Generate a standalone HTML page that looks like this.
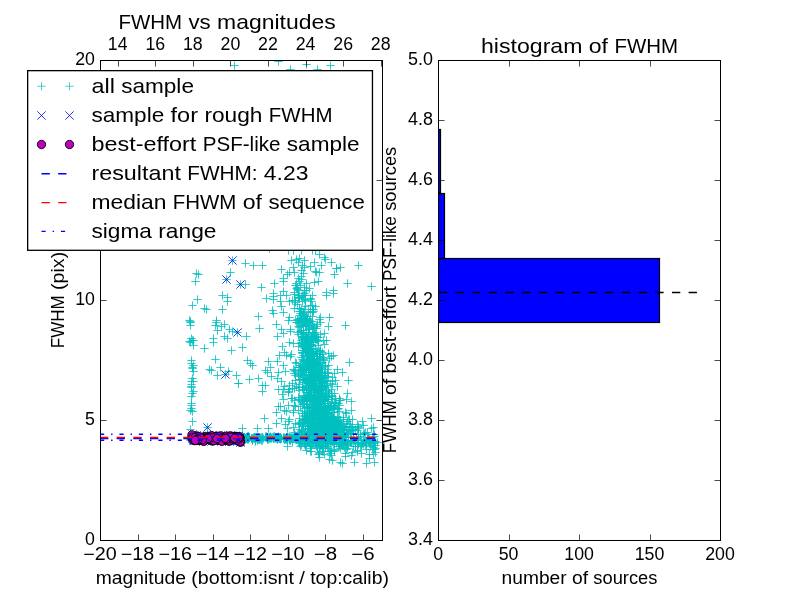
<!DOCTYPE html>
<html lang="en">
<head>
<meta charset="utf-8">
<title>FWHM vs magnitudes</title>
<style>
html,body{margin:0;padding:0;background:#fff;}
body{width:800px;height:600px;overflow:hidden;font-family:"Liberation Sans",sans-serif;}
svg{display:block;will-change:transform;}
text{font-family:"Liberation Sans",sans-serif;fill:#000;}
</style>
</head>
<body>
<svg width="800" height="600" viewBox="0 0 800 600">
<rect x="0" y="0" width="800" height="600" fill="#ffffff"/>
<defs><clipPath id="cl"><rect x="100.5" y="60.5" width="282" height="480"/></clipPath><clipPath id="cr"><rect x="438.5" y="60.5" width="282" height="480"/></clipPath></defs>
<g clip-path="url(#cl)">
<path d="M230.33 65.5h8.34M234.5 61.33v8.34M274.33 61.5h8.34M278.5 57.33v8.34M286.33 69.5h8.34M290.5 65.33v8.34M302.33 64.5h8.34M306.5 60.33v8.34M313.33 69.5h8.34M317.5 65.33v8.34M326.33 65.5h8.34M330.5 61.33v8.34M265.33 248.5h8.34M269.5 244.33v8.34M284.33 250.5h8.34M288.5 246.33v8.34M289.33 250.5h8.34M293.5 246.33v8.34M297.33 250.5h8.34M301.5 246.33v8.34M308.33 250.5h8.34M312.5 246.33v8.34M311.33 250.5h8.34M315.5 246.33v8.34M315.33 254.5h8.34M319.5 250.33v8.34M320.33 257.5h8.34M324.5 253.33v8.34M321.33 259.5h8.34M325.5 255.33v8.34M327.33 262.5h8.34M331.5 258.33v8.34M332.33 268.5h8.34M336.5 264.33v8.34M330.33 274.5h8.34M334.5 270.33v8.34M329.33 290.5h8.34M333.5 286.33v8.34M317.33 265.5h8.34M321.5 261.33v8.34M310.33 262.5h8.34M314.5 258.33v8.34M311.33 271.5h8.34M315.5 267.33v8.34M312.33 272.5h8.34M316.5 268.33v8.34M315.33 272.5h8.34M319.5 268.33v8.34M310.33 282.5h8.34M314.5 278.33v8.34M314.33 281.5h8.34M318.5 277.33v8.34M287.33 260.5h8.34M291.5 256.33v8.34M292.33 259.5h8.34M296.5 255.33v8.34M295.33 258.5h8.34M299.5 254.33v8.34M300.33 260.5h8.34M304.5 256.33v8.34M294.33 262.5h8.34M298.5 258.33v8.34M277.33 269.5h8.34M281.5 265.33v8.34M289.33 267.5h8.34M293.5 263.33v8.34M298.33 265.5h8.34M302.5 261.33v8.34M297.33 270.5h8.34M301.5 266.33v8.34M306.33 266.5h8.34M310.5 262.33v8.34M300.33 267.5h8.34M304.5 263.33v8.34M285.33 272.5h8.34M289.5 268.33v8.34M283.33 274.5h8.34M287.5 270.33v8.34M279.33 278.5h8.34M283.5 274.33v8.34M279.33 281.5h8.34M283.5 277.33v8.34M290.33 272.5h8.34M294.5 268.33v8.34M299.33 273.5h8.34M303.5 269.33v8.34M297.33 276.5h8.34M301.5 272.33v8.34M294.33 278.5h8.34M298.5 274.33v8.34M297.33 279.5h8.34M301.5 275.33v8.34M295.33 281.5h8.34M299.5 277.33v8.34M292.33 283.5h8.34M296.5 279.33v8.34M291.33 285.5h8.34M295.5 281.33v8.34M293.33 287.5h8.34M297.5 283.33v8.34M292.33 288.5h8.34M296.5 284.33v8.34M294.33 290.5h8.34M298.5 286.33v8.34M300.33 287.5h8.34M304.5 283.33v8.34M300.33 290.5h8.34M304.5 286.33v8.34M305.33 288.5h8.34M309.5 284.33v8.34M302.33 290.5h8.34M306.5 286.33v8.34M279.33 291.5h8.34M283.5 287.33v8.34M322.33 292.5h8.34M326.5 288.33v8.34M302.33 283.5h8.34M306.5 279.33v8.34M296.33 285.5h8.34M300.5 281.33v8.34M228.33 260.5h8.34M232.5 256.33v8.34M241.33 263.5h8.34M245.5 259.33v8.34M249.33 265.5h8.34M253.5 261.33v8.34M258.33 265.5h8.34M262.5 261.33v8.34M192.33 273.5h8.34M196.5 269.33v8.34M194.33 274.5h8.34M198.5 270.33v8.34M191.33 281.5h8.34M195.5 277.33v8.34M226.33 272.5h8.34M230.5 268.33v8.34M222.33 279.5h8.34M226.5 275.33v8.34M236.33 284.5h8.34M240.5 280.33v8.34M241.33 284.5h8.34M245.5 280.33v8.34M257.33 287.5h8.34M261.5 283.33v8.34M270.33 283.5h8.34M274.5 279.33v8.34M218.33 295.5h8.34M222.5 291.33v8.34M223.33 297.5h8.34M227.5 293.33v8.34M223.33 301.5h8.34M227.5 297.33v8.34M193.33 299.5h8.34M197.5 295.33v8.34M188.33 305.5h8.34M192.5 301.33v8.34M200.33 308.5h8.34M204.5 304.33v8.34M202.33 309.5h8.34M206.5 305.33v8.34M218.33 309.5h8.34M222.5 305.33v8.34M262.33 298.5h8.34M266.5 294.33v8.34M269.33 293.5h8.34M273.5 289.33v8.34M269.33 296.5h8.34M273.5 292.33v8.34M269.33 299.5h8.34M273.5 295.33v8.34M268.33 310.5h8.34M272.5 306.33v8.34M269.33 313.5h8.34M273.5 309.33v8.34M254.33 316.5h8.34M258.5 312.33v8.34M185.33 320.5h8.34M189.5 316.33v8.34M212.33 320.5h8.34M216.5 316.33v8.34M276.33 295.5h8.34M280.5 291.33v8.34M276.33 301.5h8.34M280.5 297.33v8.34M277.33 306.5h8.34M281.5 302.33v8.34M279.33 312.5h8.34M283.5 308.33v8.34M186.33 322.5h8.34M190.5 318.33v8.34M186.33 325.5h8.34M190.5 321.33v8.34M187.33 338.5h8.34M191.5 334.33v8.34M188.33 340.5h8.34M192.5 336.33v8.34M186.33 342.5h8.34M190.5 338.33v8.34M189.33 345.5h8.34M193.5 341.33v8.34M189.33 340.5h8.34M193.5 336.33v8.34M185.33 341.5h8.34M189.5 337.33v8.34M187.33 360.5h8.34M191.5 356.33v8.34M187.33 363.5h8.34M191.5 359.33v8.34M189.33 365.5h8.34M193.5 361.33v8.34M188.33 368.5h8.34M192.5 364.33v8.34M189.33 371.5h8.34M193.5 367.33v8.34M188.33 378.5h8.34M192.5 374.33v8.34M187.33 381.5h8.34M191.5 377.33v8.34M189.33 381.5h8.34M193.5 377.33v8.34M187.33 384.5h8.34M191.5 380.33v8.34M187.33 387.5h8.34M191.5 383.33v8.34M189.33 391.5h8.34M193.5 387.33v8.34M187.33 386.5h8.34M191.5 382.33v8.34M212.33 322.5h8.34M216.5 318.33v8.34M211.33 325.5h8.34M215.5 321.33v8.34M220.33 324.5h8.34M224.5 320.33v8.34M217.33 326.5h8.34M221.5 322.33v8.34M213.33 330.5h8.34M217.5 326.33v8.34M225.33 329.5h8.34M229.5 325.33v8.34M228.33 331.5h8.34M232.5 327.33v8.34M233.33 332.5h8.34M237.5 328.33v8.34M242.33 336.5h8.34M246.5 332.33v8.34M255.33 328.5h8.34M259.5 324.33v8.34M220.33 336.5h8.34M224.5 332.33v8.34M223.33 338.5h8.34M227.5 334.33v8.34M209.33 338.5h8.34M213.5 334.33v8.34M209.33 342.5h8.34M213.5 338.33v8.34M200.33 348.5h8.34M204.5 344.33v8.34M227.33 350.5h8.34M231.5 346.33v8.34M238.33 347.5h8.34M242.5 343.33v8.34M273.33 336.5h8.34M277.5 332.33v8.34M211.33 359.5h8.34M215.5 355.33v8.34M216.33 367.5h8.34M220.5 363.33v8.34M205.33 369.5h8.34M209.5 365.33v8.34M207.33 370.5h8.34M211.5 366.33v8.34M213.33 375.5h8.34M217.5 371.33v8.34M221.33 374.5h8.34M225.5 370.33v8.34M224.33 371.5h8.34M228.5 367.33v8.34M232.33 375.5h8.34M236.5 371.33v8.34M234.33 383.5h8.34M238.5 379.33v8.34M245.33 379.5h8.34M249.5 375.33v8.34M243.33 360.5h8.34M247.5 356.33v8.34M246.33 363.5h8.34M250.5 359.33v8.34M248.33 365.5h8.34M252.5 361.33v8.34M254.33 378.5h8.34M258.5 374.33v8.34M264.33 361.5h8.34M268.5 357.33v8.34M273.33 361.5h8.34M277.5 357.33v8.34M266.33 367.5h8.34M270.5 363.33v8.34M261.33 370.5h8.34M265.5 366.33v8.34M263.33 372.5h8.34M267.5 368.33v8.34M267.33 376.5h8.34M271.5 372.33v8.34M274.33 372.5h8.34M278.5 368.33v8.34M273.33 378.5h8.34M277.5 374.33v8.34M258.33 385.5h8.34M262.5 381.33v8.34M261.33 385.5h8.34M265.5 381.33v8.34M258.33 391.5h8.34M262.5 387.33v8.34M274.33 389.5h8.34M278.5 385.33v8.34M272.33 324.5h8.34M276.5 320.33v8.34M277.33 329.5h8.34M281.5 325.33v8.34M279.33 333.5h8.34M283.5 329.33v8.34M278.33 346.5h8.34M282.5 342.33v8.34M280.33 352.5h8.34M284.5 348.33v8.34M275.33 355.5h8.34M279.5 351.33v8.34M279.33 365.5h8.34M283.5 361.33v8.34M281.33 371.5h8.34M285.5 367.33v8.34M277.33 381.5h8.34M281.5 377.33v8.34M280.33 386.5h8.34M284.5 382.33v8.34M186.33 321.5h8.34M190.5 317.33v8.34M188.33 367.5h8.34M192.5 363.33v8.34M188.33 393.5h8.34M192.5 389.33v8.34M187.33 403.5h8.34M191.5 399.33v8.34M188.33 411.5h8.34M192.5 407.33v8.34M187.33 396.5h8.34M191.5 392.33v8.34M187.33 405.5h8.34M191.5 401.33v8.34M187.33 408.5h8.34M191.5 404.33v8.34M186.33 410.5h8.34M190.5 406.33v8.34M188.33 421.5h8.34M192.5 417.33v8.34M186.33 429.5h8.34M190.5 425.33v8.34M260.33 418.5h8.34M264.5 414.33v8.34M238.33 428.5h8.34M242.5 424.33v8.34M253.33 428.5h8.34M257.5 424.33v8.34M264.33 428.5h8.34M268.5 424.33v8.34M272.33 412.5h8.34M276.5 408.33v8.34M272.33 423.5h8.34M276.5 419.33v8.34M274.33 406.5h8.34M278.5 402.33v8.34M234.33 383.5h8.34M238.5 379.33v8.34M276.33 406.5h8.34M280.5 402.33v8.34M278.33 394.5h8.34M282.5 390.33v8.34M279.33 389.5h8.34M283.5 385.33v8.34M279.33 399.5h8.34M283.5 395.33v8.34M280.33 410.5h8.34M284.5 406.33v8.34M277.33 418.5h8.34M281.5 414.33v8.34M281.33 424.5h8.34M285.5 420.33v8.34M354.33 265.5h8.34M358.5 261.33v8.34M367.33 286.5h8.34M371.5 282.33v8.34M343.33 283.5h8.34M347.5 279.33v8.34M336.33 267.5h8.34M340.5 263.33v8.34M332.33 268.5h8.34M336.5 264.33v8.34M329.33 293.5h8.34M333.5 289.33v8.34M322.33 295.5h8.34M326.5 291.33v8.34M325.33 317.5h8.34M329.5 313.33v8.34M316.33 317.5h8.34M320.5 313.33v8.34M311.33 306.5h8.34M315.5 302.33v8.34M341.33 325.5h8.34M345.5 321.33v8.34M344.33 380.5h8.34M348.5 376.33v8.34M324.33 326.5h8.34M328.5 322.33v8.34M322.33 340.5h8.34M326.5 336.33v8.34M327.33 356.5h8.34M331.5 352.33v8.34M333.33 369.5h8.34M337.5 365.33v8.34M338.33 463.5h8.34M342.5 459.33v8.34M370.33 462.5h8.34M374.5 458.33v8.34M315.33 457.5h8.34M319.5 453.33v8.34M328.33 460.5h8.34M332.5 456.33v8.34M367.33 418.5h8.34M371.5 414.33v8.34M369.33 427.5h8.34M373.5 423.33v8.34M203.33 427.5h8.34M207.5 423.33v8.34M310.33 354.5h8.34M314.5 350.33v8.34M301.33 347.5h8.34M305.5 343.33v8.34M316.33 378.5h8.34M320.5 374.33v8.34M316.33 377.5h8.34M320.5 373.33v8.34M313.33 376.5h8.34M317.5 372.33v8.34M318.33 443.5h8.34M322.5 439.33v8.34M308.33 368.5h8.34M312.5 364.33v8.34M301.33 342.5h8.34M305.5 338.33v8.34M320.33 426.5h8.34M324.5 422.33v8.34M321.33 416.5h8.34M325.5 412.33v8.34M322.33 426.5h8.34M326.5 422.33v8.34M300.33 374.5h8.34M304.5 370.33v8.34M304.33 340.5h8.34M308.5 336.33v8.34M311.33 409.5h8.34M315.5 405.33v8.34M318.33 399.5h8.34M322.5 395.33v8.34M323.33 441.5h8.34M327.5 437.33v8.34M293.33 289.5h8.34M297.5 285.33v8.34M320.33 439.5h8.34M324.5 435.33v8.34M303.33 351.5h8.34M307.5 347.33v8.34M302.33 398.5h8.34M306.5 394.33v8.34M305.33 320.5h8.34M309.5 316.33v8.34M310.33 415.5h8.34M314.5 411.33v8.34M302.33 388.5h8.34M306.5 384.33v8.34M324.33 397.5h8.34M328.5 393.33v8.34M307.33 359.5h8.34M311.5 355.33v8.34M297.33 330.5h8.34M301.5 326.33v8.34M313.33 436.5h8.34M317.5 432.33v8.34M304.33 351.5h8.34M308.5 347.33v8.34M317.33 412.5h8.34M321.5 408.33v8.34M321.33 418.5h8.34M325.5 414.33v8.34M313.33 356.5h8.34M317.5 352.33v8.34M324.33 414.5h8.34M328.5 410.33v8.34M307.33 339.5h8.34M311.5 335.33v8.34M319.33 411.5h8.34M323.5 407.33v8.34M313.33 412.5h8.34M317.5 408.33v8.34M313.33 392.5h8.34M317.5 388.33v8.34M303.33 363.5h8.34M307.5 359.33v8.34M340.33 439.5h8.34M344.5 435.33v8.34M310.33 337.5h8.34M314.5 333.33v8.34M326.33 431.5h8.34M330.5 427.33v8.34M330.33 436.5h8.34M334.5 432.33v8.34M333.33 423.5h8.34M337.5 419.33v8.34M321.33 410.5h8.34M325.5 406.33v8.34M301.33 306.5h8.34M305.5 302.33v8.34M310.33 433.5h8.34M314.5 429.33v8.34M320.33 397.5h8.34M324.5 393.33v8.34M303.33 442.5h8.34M307.5 438.33v8.34M309.33 415.5h8.34M313.5 411.33v8.34M323.33 430.5h8.34M327.5 426.33v8.34M310.33 328.5h8.34M314.5 324.33v8.34M314.33 414.5h8.34M318.5 410.33v8.34M315.33 413.5h8.34M319.5 409.33v8.34M303.33 396.5h8.34M307.5 392.33v8.34M302.33 417.5h8.34M306.5 413.33v8.34M326.33 442.5h8.34M330.5 438.33v8.34M311.33 407.5h8.34M315.5 403.33v8.34M303.33 350.5h8.34M307.5 346.33v8.34M305.33 383.5h8.34M309.5 379.33v8.34M314.33 414.5h8.34M318.5 410.33v8.34M315.33 408.5h8.34M319.5 404.33v8.34M305.33 443.5h8.34M309.5 439.33v8.34M316.33 419.5h8.34M320.5 415.33v8.34M324.33 428.5h8.34M328.5 424.33v8.34M319.33 412.5h8.34M323.5 408.33v8.34M318.33 442.5h8.34M322.5 438.33v8.34M313.33 390.5h8.34M317.5 386.33v8.34M316.33 395.5h8.34M320.5 391.33v8.34M325.33 435.5h8.34M329.5 431.33v8.34M321.33 437.5h8.34M325.5 433.33v8.34M311.33 441.5h8.34M315.5 437.33v8.34M295.33 311.5h8.34M299.5 307.33v8.34M321.33 395.5h8.34M325.5 391.33v8.34M309.33 366.5h8.34M313.5 362.33v8.34M295.33 343.5h8.34M299.5 339.33v8.34M315.33 377.5h8.34M319.5 373.33v8.34M319.33 431.5h8.34M323.5 427.33v8.34M294.33 397.5h8.34M298.5 393.33v8.34M299.33 370.5h8.34M303.5 366.33v8.34M318.33 352.5h8.34M322.5 348.33v8.34M324.33 390.5h8.34M328.5 386.33v8.34M308.33 415.5h8.34M312.5 411.33v8.34M303.33 414.5h8.34M307.5 410.33v8.34M313.33 439.5h8.34M317.5 435.33v8.34M304.33 329.5h8.34M308.5 325.33v8.34M307.33 406.5h8.34M311.5 402.33v8.34M320.33 416.5h8.34M324.5 412.33v8.34M315.33 413.5h8.34M319.5 409.33v8.34M330.33 430.5h8.34M334.5 426.33v8.34M307.33 385.5h8.34M311.5 381.33v8.34M316.33 416.5h8.34M320.5 412.33v8.34M344.33 419.5h8.34M348.5 415.33v8.34M321.33 432.5h8.34M325.5 428.33v8.34M318.33 419.5h8.34M322.5 415.33v8.34M310.33 385.5h8.34M314.5 381.33v8.34M309.33 389.5h8.34M313.5 385.33v8.34M305.33 359.5h8.34M309.5 355.33v8.34M303.33 349.5h8.34M307.5 345.33v8.34M313.33 353.5h8.34M317.5 349.33v8.34M322.33 397.5h8.34M326.5 393.33v8.34M315.33 440.5h8.34M319.5 436.33v8.34M313.33 419.5h8.34M317.5 415.33v8.34M300.33 320.5h8.34M304.5 316.33v8.34M298.33 352.5h8.34M302.5 348.33v8.34M304.33 355.5h8.34M308.5 351.33v8.34M303.33 350.5h8.34M307.5 346.33v8.34M323.33 432.5h8.34M327.5 428.33v8.34M300.33 309.5h8.34M304.5 305.33v8.34M325.33 437.5h8.34M329.5 433.33v8.34M309.33 379.5h8.34M313.5 375.33v8.34M325.33 412.5h8.34M329.5 408.33v8.34M314.33 441.5h8.34M318.5 437.33v8.34M302.33 398.5h8.34M306.5 394.33v8.34M300.33 404.5h8.34M304.5 400.33v8.34M328.33 439.5h8.34M332.5 435.33v8.34M314.33 396.5h8.34M318.5 392.33v8.34M288.33 388.5h8.34M292.5 384.33v8.34M328.33 436.5h8.34M332.5 432.33v8.34M311.33 381.5h8.34M315.5 377.33v8.34M318.33 423.5h8.34M322.5 419.33v8.34M291.33 362.5h8.34M295.5 358.33v8.34M315.33 386.5h8.34M319.5 382.33v8.34M323.33 443.5h8.34M327.5 439.33v8.34M305.33 392.5h8.34M309.5 388.33v8.34M312.33 359.5h8.34M316.5 355.33v8.34M308.33 444.5h8.34M312.5 440.33v8.34M335.33 425.5h8.34M339.5 421.33v8.34M302.33 392.5h8.34M306.5 388.33v8.34M309.33 327.5h8.34M313.5 323.33v8.34M302.33 359.5h8.34M306.5 355.33v8.34M295.33 429.5h8.34M299.5 425.33v8.34M331.33 438.5h8.34M335.5 434.33v8.34M311.33 439.5h8.34M315.5 435.33v8.34M314.33 345.5h8.34M318.5 341.33v8.34M310.33 435.5h8.34M314.5 431.33v8.34M302.33 332.5h8.34M306.5 328.33v8.34M326.33 424.5h8.34M330.5 420.33v8.34M319.33 427.5h8.34M323.5 423.33v8.34M313.33 427.5h8.34M317.5 423.33v8.34M303.33 378.5h8.34M307.5 374.33v8.34M297.33 430.5h8.34M301.5 426.33v8.34M308.33 423.5h8.34M312.5 419.33v8.34M302.33 392.5h8.34M306.5 388.33v8.34M315.33 424.5h8.34M319.5 420.33v8.34M302.33 337.5h8.34M306.5 333.33v8.34M299.33 333.5h8.34M303.5 329.33v8.34M317.33 380.5h8.34M321.5 376.33v8.34M311.33 398.5h8.34M315.5 394.33v8.34M317.33 425.5h8.34M321.5 421.33v8.34M296.33 373.5h8.34M300.5 369.33v8.34M312.33 433.5h8.34M316.5 429.33v8.34M319.33 430.5h8.34M323.5 426.33v8.34M311.33 402.5h8.34M315.5 398.33v8.34M317.33 404.5h8.34M321.5 400.33v8.34M310.33 397.5h8.34M314.5 393.33v8.34M322.33 422.5h8.34M326.5 418.33v8.34M316.33 409.5h8.34M320.5 405.33v8.34M290.33 300.5h8.34M294.5 296.33v8.34M318.33 362.5h8.34M322.5 358.33v8.34M306.33 321.5h8.34M310.5 317.33v8.34M304.33 359.5h8.34M308.5 355.33v8.34M312.33 415.5h8.34M316.5 411.33v8.34M291.33 423.5h8.34M295.5 419.33v8.34M318.33 390.5h8.34M322.5 386.33v8.34M320.33 413.5h8.34M324.5 409.33v8.34M308.33 373.5h8.34M312.5 369.33v8.34M318.33 382.5h8.34M322.5 378.33v8.34M315.33 408.5h8.34M319.5 404.33v8.34M335.33 436.5h8.34M339.5 432.33v8.34M302.33 370.5h8.34M306.5 366.33v8.34M296.33 365.5h8.34M300.5 361.33v8.34M309.33 336.5h8.34M313.5 332.33v8.34M302.33 436.5h8.34M306.5 432.33v8.34M321.33 435.5h8.34M325.5 431.33v8.34M309.33 405.5h8.34M313.5 401.33v8.34M312.33 383.5h8.34M316.5 379.33v8.34M314.33 399.5h8.34M318.5 395.33v8.34M313.33 363.5h8.34M317.5 359.33v8.34M301.33 421.5h8.34M305.5 417.33v8.34M302.33 369.5h8.34M306.5 365.33v8.34M305.33 394.5h8.34M309.5 390.33v8.34M320.33 423.5h8.34M324.5 419.33v8.34M305.33 433.5h8.34M309.5 429.33v8.34M295.33 442.5h8.34M299.5 438.33v8.34M299.33 330.5h8.34M303.5 326.33v8.34M341.33 437.5h8.34M345.5 433.33v8.34M315.33 376.5h8.34M319.5 372.33v8.34M311.33 407.5h8.34M315.5 403.33v8.34M318.33 444.5h8.34M322.5 440.33v8.34M308.33 374.5h8.34M312.5 370.33v8.34M332.33 440.5h8.34M336.5 436.33v8.34M308.33 316.5h8.34M312.5 312.33v8.34M306.33 420.5h8.34M310.5 416.33v8.34M316.33 381.5h8.34M320.5 377.33v8.34M309.33 365.5h8.34M313.5 361.33v8.34M307.33 383.5h8.34M311.5 379.33v8.34M303.33 392.5h8.34M307.5 388.33v8.34M339.33 419.5h8.34M343.5 415.33v8.34M321.33 413.5h8.34M325.5 409.33v8.34M320.33 439.5h8.34M324.5 435.33v8.34M290.33 432.5h8.34M294.5 428.33v8.34M303.33 367.5h8.34M307.5 363.33v8.34M333.33 408.5h8.34M337.5 404.33v8.34M319.33 401.5h8.34M323.5 397.33v8.34M312.33 442.5h8.34M316.5 438.33v8.34M327.33 406.5h8.34M331.5 402.33v8.34M298.33 366.5h8.34M302.5 362.33v8.34M316.33 438.5h8.34M320.5 434.33v8.34M307.33 344.5h8.34M311.5 340.33v8.34M308.33 439.5h8.34M312.5 435.33v8.34M311.33 413.5h8.34M315.5 409.33v8.34M327.33 424.5h8.34M331.5 420.33v8.34M318.33 390.5h8.34M322.5 386.33v8.34M330.33 423.5h8.34M334.5 419.33v8.34M327.33 405.5h8.34M331.5 401.33v8.34M316.33 435.5h8.34M320.5 431.33v8.34M328.33 441.5h8.34M332.5 437.33v8.34M324.33 441.5h8.34M328.5 437.33v8.34M325.33 435.5h8.34M329.5 431.33v8.34M334.33 443.5h8.34M338.5 439.33v8.34M289.33 410.5h8.34M293.5 406.33v8.34M327.33 432.5h8.34M331.5 428.33v8.34M326.33 439.5h8.34M330.5 435.33v8.34M298.33 295.5h8.34M302.5 291.33v8.34M307.33 425.5h8.34M311.5 421.33v8.34M313.33 428.5h8.34M317.5 424.33v8.34M304.33 311.5h8.34M308.5 307.33v8.34M322.33 439.5h8.34M326.5 435.33v8.34M296.33 311.5h8.34M300.5 307.33v8.34M295.33 322.5h8.34M299.5 318.33v8.34M331.33 380.5h8.34M335.5 376.33v8.34M302.33 367.5h8.34M306.5 363.33v8.34M301.33 321.5h8.34M305.5 317.33v8.34M301.33 397.5h8.34M305.5 393.33v8.34M329.33 427.5h8.34M333.5 423.33v8.34M297.33 365.5h8.34M301.5 361.33v8.34M310.33 426.5h8.34M314.5 422.33v8.34M306.33 400.5h8.34M310.5 396.33v8.34M311.33 371.5h8.34M315.5 367.33v8.34M317.33 435.5h8.34M321.5 431.33v8.34M324.33 365.5h8.34M328.5 361.33v8.34M305.33 363.5h8.34M309.5 359.33v8.34M325.33 358.5h8.34M329.5 354.33v8.34M323.33 410.5h8.34M327.5 406.33v8.34M295.33 308.5h8.34M299.5 304.33v8.34M301.33 375.5h8.34M305.5 371.33v8.34M311.33 370.5h8.34M315.5 366.33v8.34M324.33 425.5h8.34M328.5 421.33v8.34M323.33 427.5h8.34M327.5 423.33v8.34M335.33 443.5h8.34M339.5 439.33v8.34M329.33 417.5h8.34M333.5 413.33v8.34M310.33 424.5h8.34M314.5 420.33v8.34M316.33 446.5h8.34M320.5 442.33v8.34M333.33 421.5h8.34M337.5 417.33v8.34M304.33 326.5h8.34M308.5 322.33v8.34M312.33 339.5h8.34M316.5 335.33v8.34M315.33 401.5h8.34M319.5 397.33v8.34M295.33 379.5h8.34M299.5 375.33v8.34M323.33 431.5h8.34M327.5 427.33v8.34M312.33 412.5h8.34M316.5 408.33v8.34M338.33 426.5h8.34M342.5 422.33v8.34M309.33 353.5h8.34M313.5 349.33v8.34M326.33 421.5h8.34M330.5 417.33v8.34M310.33 422.5h8.34M314.5 418.33v8.34M298.33 343.5h8.34M302.5 339.33v8.34M305.33 375.5h8.34M309.5 371.33v8.34M327.33 441.5h8.34M331.5 437.33v8.34M298.33 413.5h8.34M302.5 409.33v8.34M320.33 429.5h8.34M324.5 425.33v8.34M328.33 438.5h8.34M332.5 434.33v8.34M302.33 404.5h8.34M306.5 400.33v8.34M317.33 397.5h8.34M321.5 393.33v8.34M310.33 358.5h8.34M314.5 354.33v8.34M331.33 398.5h8.34M335.5 394.33v8.34M321.33 409.5h8.34M325.5 405.33v8.34M305.33 360.5h8.34M309.5 356.33v8.34M306.33 399.5h8.34M310.5 395.33v8.34M300.33 432.5h8.34M304.5 428.33v8.34M326.33 405.5h8.34M330.5 401.33v8.34M316.33 422.5h8.34M320.5 418.33v8.34M320.33 373.5h8.34M324.5 369.33v8.34M333.33 427.5h8.34M337.5 423.33v8.34M315.33 445.5h8.34M319.5 441.33v8.34M310.33 397.5h8.34M314.5 393.33v8.34M299.33 312.5h8.34M303.5 308.33v8.34M310.33 422.5h8.34M314.5 418.33v8.34M319.33 399.5h8.34M323.5 395.33v8.34M316.33 378.5h8.34M320.5 374.33v8.34M317.33 401.5h8.34M321.5 397.33v8.34M307.33 420.5h8.34M311.5 416.33v8.34M325.33 429.5h8.34M329.5 425.33v8.34M320.33 432.5h8.34M324.5 428.33v8.34M308.33 422.5h8.34M312.5 418.33v8.34M318.33 385.5h8.34M322.5 381.33v8.34M301.33 443.5h8.34M305.5 439.33v8.34M318.33 397.5h8.34M322.5 393.33v8.34M302.33 439.5h8.34M306.5 435.33v8.34M314.33 436.5h8.34M318.5 432.33v8.34M316.33 334.5h8.34M320.5 330.33v8.34M308.33 422.5h8.34M312.5 418.33v8.34M315.33 359.5h8.34M319.5 355.33v8.34M314.33 341.5h8.34M318.5 337.33v8.34M328.33 412.5h8.34M332.5 408.33v8.34M298.33 423.5h8.34M302.5 419.33v8.34M327.33 434.5h8.34M331.5 430.33v8.34M300.33 434.5h8.34M304.5 430.33v8.34M315.33 422.5h8.34M319.5 418.33v8.34M310.33 388.5h8.34M314.5 384.33v8.34M299.33 360.5h8.34M303.5 356.33v8.34M324.33 441.5h8.34M328.5 437.33v8.34M323.33 417.5h8.34M327.5 413.33v8.34M298.33 399.5h8.34M302.5 395.33v8.34M327.33 436.5h8.34M331.5 432.33v8.34M335.33 420.5h8.34M339.5 416.33v8.34M310.33 406.5h8.34M314.5 402.33v8.34M318.33 371.5h8.34M322.5 367.33v8.34M308.33 368.5h8.34M312.5 364.33v8.34M315.33 393.5h8.34M319.5 389.33v8.34M321.33 422.5h8.34M325.5 418.33v8.34M318.33 393.5h8.34M322.5 389.33v8.34M318.33 411.5h8.34M322.5 407.33v8.34M304.33 407.5h8.34M308.5 403.33v8.34M302.33 389.5h8.34M306.5 385.33v8.34M305.33 362.5h8.34M309.5 358.33v8.34M328.33 432.5h8.34M332.5 428.33v8.34M330.33 431.5h8.34M334.5 427.33v8.34M313.33 439.5h8.34M317.5 435.33v8.34M305.33 368.5h8.34M309.5 364.33v8.34M289.33 369.5h8.34M293.5 365.33v8.34M304.33 419.5h8.34M308.5 415.33v8.34M303.33 416.5h8.34M307.5 412.33v8.34M299.33 379.5h8.34M303.5 375.33v8.34M306.33 377.5h8.34M310.5 373.33v8.34M297.33 332.5h8.34M301.5 328.33v8.34M314.33 370.5h8.34M318.5 366.33v8.34M305.33 322.5h8.34M309.5 318.33v8.34M304.33 369.5h8.34M308.5 365.33v8.34M294.33 410.5h8.34M298.5 406.33v8.34M298.33 322.5h8.34M302.5 318.33v8.34M306.33 438.5h8.34M310.5 434.33v8.34M317.33 428.5h8.34M321.5 424.33v8.34M298.33 359.5h8.34M302.5 355.33v8.34M307.33 348.5h8.34M311.5 344.33v8.34M336.33 431.5h8.34M340.5 427.33v8.34M304.33 332.5h8.34M308.5 328.33v8.34M321.33 373.5h8.34M325.5 369.33v8.34M316.33 380.5h8.34M320.5 376.33v8.34M322.33 408.5h8.34M326.5 404.33v8.34M306.33 397.5h8.34M310.5 393.33v8.34M303.33 339.5h8.34M307.5 335.33v8.34M313.33 414.5h8.34M317.5 410.33v8.34M319.33 403.5h8.34M323.5 399.33v8.34M318.33 413.5h8.34M322.5 409.33v8.34M304.33 378.5h8.34M308.5 374.33v8.34M294.33 295.5h8.34M298.5 291.33v8.34M305.33 407.5h8.34M309.5 403.33v8.34M317.33 426.5h8.34M321.5 422.33v8.34M299.33 346.5h8.34M303.5 342.33v8.34M300.33 299.5h8.34M304.5 295.33v8.34M299.33 336.5h8.34M303.5 332.33v8.34M310.33 358.5h8.34M314.5 354.33v8.34M325.33 429.5h8.34M329.5 425.33v8.34M319.33 398.5h8.34M323.5 394.33v8.34M313.33 414.5h8.34M317.5 410.33v8.34M329.33 405.5h8.34M333.5 401.33v8.34M313.33 406.5h8.34M317.5 402.33v8.34M312.33 446.5h8.34M316.5 442.33v8.34M306.33 439.5h8.34M310.5 435.33v8.34M310.33 396.5h8.34M314.5 392.33v8.34M308.33 362.5h8.34M312.5 358.33v8.34M309.33 399.5h8.34M313.5 395.33v8.34M315.33 426.5h8.34M319.5 422.33v8.34M322.33 437.5h8.34M326.5 433.33v8.34M309.33 342.5h8.34M313.5 338.33v8.34M311.33 429.5h8.34M315.5 425.33v8.34M318.33 381.5h8.34M322.5 377.33v8.34M317.33 372.5h8.34M321.5 368.33v8.34M297.33 369.5h8.34M301.5 365.33v8.34M310.33 383.5h8.34M314.5 379.33v8.34M324.33 391.5h8.34M328.5 387.33v8.34M309.33 425.5h8.34M313.5 421.33v8.34M330.33 431.5h8.34M334.5 427.33v8.34M302.33 316.5h8.34M306.5 312.33v8.34M313.33 431.5h8.34M317.5 427.33v8.34M311.33 408.5h8.34M315.5 404.33v8.34M332.33 421.5h8.34M336.5 417.33v8.34M309.33 410.5h8.34M313.5 406.33v8.34M295.33 367.5h8.34M299.5 363.33v8.34M292.33 322.5h8.34M296.5 318.33v8.34M298.33 319.5h8.34M302.5 315.33v8.34M317.33 428.5h8.34M321.5 424.33v8.34M301.33 426.5h8.34M305.5 422.33v8.34M314.33 377.5h8.34M318.5 373.33v8.34M303.33 401.5h8.34M307.5 397.33v8.34M334.33 403.5h8.34M338.5 399.33v8.34M338.33 435.5h8.34M342.5 431.33v8.34M317.33 429.5h8.34M321.5 425.33v8.34M308.33 400.5h8.34M312.5 396.33v8.34M313.33 412.5h8.34M317.5 408.33v8.34M326.33 421.5h8.34M330.5 417.33v8.34M301.33 413.5h8.34M305.5 409.33v8.34M353.33 430.5h8.34M357.5 426.33v8.34M301.33 295.5h8.34M305.5 291.33v8.34M330.33 412.5h8.34M334.5 408.33v8.34M292.33 386.5h8.34M296.5 382.33v8.34M323.33 409.5h8.34M327.5 405.33v8.34M305.33 328.5h8.34M309.5 324.33v8.34M320.33 430.5h8.34M324.5 426.33v8.34M310.33 400.5h8.34M314.5 396.33v8.34M303.33 428.5h8.34M307.5 424.33v8.34M312.33 354.5h8.34M316.5 350.33v8.34M315.33 364.5h8.34M319.5 360.33v8.34M326.33 441.5h8.34M330.5 437.33v8.34M310.33 368.5h8.34M314.5 364.33v8.34M304.33 441.5h8.34M308.5 437.33v8.34M294.33 374.5h8.34M298.5 370.33v8.34M308.33 325.5h8.34M312.5 321.33v8.34M308.33 352.5h8.34M312.5 348.33v8.34M294.33 326.5h8.34M298.5 322.33v8.34M321.33 411.5h8.34M325.5 407.33v8.34M326.33 418.5h8.34M330.5 414.33v8.34M317.33 410.5h8.34M321.5 406.33v8.34M304.33 365.5h8.34M308.5 361.33v8.34M319.33 378.5h8.34M323.5 374.33v8.34M302.33 440.5h8.34M306.5 436.33v8.34M316.33 390.5h8.34M320.5 386.33v8.34M313.33 415.5h8.34M317.5 411.33v8.34M322.33 438.5h8.34M326.5 434.33v8.34M314.33 364.5h8.34M318.5 360.33v8.34M313.33 431.5h8.34M317.5 427.33v8.34M320.33 400.5h8.34M324.5 396.33v8.34M317.33 368.5h8.34M321.5 364.33v8.34M303.33 349.5h8.34M307.5 345.33v8.34M307.33 430.5h8.34M311.5 426.33v8.34M304.33 334.5h8.34M308.5 330.33v8.34M300.33 368.5h8.34M304.5 364.33v8.34M316.33 432.5h8.34M320.5 428.33v8.34M308.33 374.5h8.34M312.5 370.33v8.34M309.33 423.5h8.34M313.5 419.33v8.34M296.33 399.5h8.34M300.5 395.33v8.34M321.33 377.5h8.34M325.5 373.33v8.34M317.33 382.5h8.34M321.5 378.33v8.34M315.33 419.5h8.34M319.5 415.33v8.34M290.33 370.5h8.34M294.5 366.33v8.34M322.33 432.5h8.34M326.5 428.33v8.34M310.33 391.5h8.34M314.5 387.33v8.34M298.33 350.5h8.34M302.5 346.33v8.34M309.33 333.5h8.34M313.5 329.33v8.34M292.33 363.5h8.34M296.5 359.33v8.34M301.33 422.5h8.34M305.5 418.33v8.34M296.33 433.5h8.34M300.5 429.33v8.34M329.33 428.5h8.34M333.5 424.33v8.34M311.33 443.5h8.34M315.5 439.33v8.34M316.33 443.5h8.34M320.5 439.33v8.34M307.33 410.5h8.34M311.5 406.33v8.34M335.33 436.5h8.34M339.5 432.33v8.34M312.33 373.5h8.34M316.5 369.33v8.34M317.33 397.5h8.34M321.5 393.33v8.34M298.33 338.5h8.34M302.5 334.33v8.34M305.33 358.5h8.34M309.5 354.33v8.34M301.33 336.5h8.34M305.5 332.33v8.34M328.33 396.5h8.34M332.5 392.33v8.34M311.33 376.5h8.34M315.5 372.33v8.34M309.33 384.5h8.34M313.5 380.33v8.34M317.33 415.5h8.34M321.5 411.33v8.34M305.33 401.5h8.34M309.5 397.33v8.34M315.33 398.5h8.34M319.5 394.33v8.34M314.33 424.5h8.34M318.5 420.33v8.34M342.33 423.5h8.34M346.5 419.33v8.34M322.33 433.5h8.34M326.5 429.33v8.34M315.33 419.5h8.34M319.5 415.33v8.34M302.33 437.5h8.34M306.5 433.33v8.34M307.33 368.5h8.34M311.5 364.33v8.34M294.33 399.5h8.34M298.5 395.33v8.34M321.33 418.5h8.34M325.5 414.33v8.34M316.33 434.5h8.34M320.5 430.33v8.34M322.33 413.5h8.34M326.5 409.33v8.34M305.33 372.5h8.34M309.5 368.33v8.34M327.33 432.5h8.34M331.5 428.33v8.34M305.33 327.5h8.34M309.5 323.33v8.34M318.33 438.5h8.34M322.5 434.33v8.34M297.33 357.5h8.34M301.5 353.33v8.34M329.33 437.5h8.34M333.5 433.33v8.34M290.33 308.5h8.34M294.5 304.33v8.34M307.33 382.5h8.34M311.5 378.33v8.34M326.33 434.5h8.34M330.5 430.33v8.34M326.33 406.5h8.34M330.5 402.33v8.34M319.33 425.5h8.34M323.5 421.33v8.34M324.33 418.5h8.34M328.5 414.33v8.34M343.33 444.5h8.34M347.5 440.33v8.34M315.33 409.5h8.34M319.5 405.33v8.34M298.33 339.5h8.34M302.5 335.33v8.34M312.33 422.5h8.34M316.5 418.33v8.34M302.33 355.5h8.34M306.5 351.33v8.34M308.33 398.5h8.34M312.5 394.33v8.34M295.33 399.5h8.34M299.5 395.33v8.34M310.33 406.5h8.34M314.5 402.33v8.34M311.33 339.5h8.34M315.5 335.33v8.34M303.33 407.5h8.34M307.5 403.33v8.34M319.33 406.5h8.34M323.5 402.33v8.34M320.33 385.5h8.34M324.5 381.33v8.34M324.33 425.5h8.34M328.5 421.33v8.34M307.33 363.5h8.34M311.5 359.33v8.34M309.33 351.5h8.34M313.5 347.33v8.34M295.33 297.5h8.34M299.5 293.33v8.34M304.33 340.5h8.34M308.5 336.33v8.34M320.33 385.5h8.34M324.5 381.33v8.34M318.33 435.5h8.34M322.5 431.33v8.34M289.33 412.5h8.34M293.5 408.33v8.34M321.33 438.5h8.34M325.5 434.33v8.34M312.33 413.5h8.34M316.5 409.33v8.34M318.33 420.5h8.34M322.5 416.33v8.34M318.33 430.5h8.34M322.5 426.33v8.34M316.33 351.5h8.34M320.5 347.33v8.34M324.33 397.5h8.34M328.5 393.33v8.34M338.33 434.5h8.34M342.5 430.33v8.34M299.33 365.5h8.34M303.5 361.33v8.34M322.33 381.5h8.34M326.5 377.33v8.34M307.33 364.5h8.34M311.5 360.33v8.34M305.33 399.5h8.34M309.5 395.33v8.34M342.33 426.5h8.34M346.5 422.33v8.34M310.33 389.5h8.34M314.5 385.33v8.34M309.33 339.5h8.34M313.5 335.33v8.34M330.33 435.5h8.34M334.5 431.33v8.34M312.33 417.5h8.34M316.5 413.33v8.34M297.33 320.5h8.34M301.5 316.33v8.34M327.33 433.5h8.34M331.5 429.33v8.34M300.33 377.5h8.34M304.5 373.33v8.34M307.33 395.5h8.34M311.5 391.33v8.34M311.33 332.5h8.34M315.5 328.33v8.34M310.33 437.5h8.34M314.5 433.33v8.34M306.33 367.5h8.34M310.5 363.33v8.34M321.33 434.5h8.34M325.5 430.33v8.34M302.33 381.5h8.34M306.5 377.33v8.34M308.33 419.5h8.34M312.5 415.33v8.34M309.33 371.5h8.34M313.5 367.33v8.34M301.33 421.5h8.34M305.5 417.33v8.34M315.33 404.5h8.34M319.5 400.33v8.34M331.33 430.5h8.34M335.5 426.33v8.34M343.33 421.5h8.34M347.5 417.33v8.34M300.33 420.5h8.34M304.5 416.33v8.34M327.33 431.5h8.34M331.5 427.33v8.34M304.33 383.5h8.34M308.5 379.33v8.34M339.33 435.5h8.34M343.5 431.33v8.34M302.33 443.5h8.34M306.5 439.33v8.34M313.33 340.5h8.34M317.5 336.33v8.34M297.33 445.5h8.34M301.5 441.33v8.34M320.33 414.5h8.34M324.5 410.33v8.34M331.33 431.5h8.34M335.5 427.33v8.34M296.33 372.5h8.34M300.5 368.33v8.34M295.33 315.5h8.34M299.5 311.33v8.34M305.33 346.5h8.34M309.5 342.33v8.34M313.33 362.5h8.34M317.5 358.33v8.34M309.33 358.5h8.34M313.5 354.33v8.34M319.33 433.5h8.34M323.5 429.33v8.34M309.33 392.5h8.34M313.5 388.33v8.34M311.33 390.5h8.34M315.5 386.33v8.34M313.33 375.5h8.34M317.5 371.33v8.34M342.33 399.5h8.34M346.5 395.33v8.34M304.33 390.5h8.34M308.5 386.33v8.34M330.33 402.5h8.34M334.5 398.33v8.34M315.33 423.5h8.34M319.5 419.33v8.34M326.33 416.5h8.34M330.5 412.33v8.34M307.33 387.5h8.34M311.5 383.33v8.34M329.33 417.5h8.34M333.5 413.33v8.34M316.33 413.5h8.34M320.5 409.33v8.34M324.33 420.5h8.34M328.5 416.33v8.34M340.33 426.5h8.34M344.5 422.33v8.34M302.33 343.5h8.34M306.5 339.33v8.34M312.33 351.5h8.34M316.5 347.33v8.34M323.33 369.5h8.34M327.5 365.33v8.34M320.33 399.5h8.34M324.5 395.33v8.34M307.33 336.5h8.34M311.5 332.33v8.34M323.33 380.5h8.34M327.5 376.33v8.34M342.33 443.5h8.34M346.5 439.33v8.34M302.33 360.5h8.34M306.5 356.33v8.34M294.33 376.5h8.34M298.5 372.33v8.34M301.33 338.5h8.34M305.5 334.33v8.34M299.33 423.5h8.34M303.5 419.33v8.34M321.33 398.5h8.34M325.5 394.33v8.34M313.33 356.5h8.34M317.5 352.33v8.34M313.33 418.5h8.34M317.5 414.33v8.34M316.33 426.5h8.34M320.5 422.33v8.34M311.33 383.5h8.34M315.5 379.33v8.34M300.33 390.5h8.34M304.5 386.33v8.34M310.33 390.5h8.34M314.5 386.33v8.34M301.33 325.5h8.34M305.5 321.33v8.34M309.33 356.5h8.34M313.5 352.33v8.34M311.33 425.5h8.34M315.5 421.33v8.34M319.33 410.5h8.34M323.5 406.33v8.34M317.33 445.5h8.34M321.5 441.33v8.34M300.33 341.5h8.34M304.5 337.33v8.34M328.33 377.5h8.34M332.5 373.33v8.34M317.33 435.5h8.34M321.5 431.33v8.34M315.33 351.5h8.34M319.5 347.33v8.34M308.33 439.5h8.34M312.5 435.33v8.34M318.33 416.5h8.34M322.5 412.33v8.34M305.33 383.5h8.34M309.5 379.33v8.34M335.33 436.5h8.34M339.5 432.33v8.34M311.33 410.5h8.34M315.5 406.33v8.34M300.33 315.5h8.34M304.5 311.33v8.34M316.33 376.5h8.34M320.5 372.33v8.34M335.33 442.5h8.34M339.5 438.33v8.34M330.33 373.5h8.34M334.5 369.33v8.34M322.33 392.5h8.34M326.5 388.33v8.34M331.33 440.5h8.34M335.5 436.33v8.34M335.33 405.5h8.34M339.5 401.33v8.34M302.33 356.5h8.34M306.5 352.33v8.34M318.33 386.5h8.34M322.5 382.33v8.34M311.33 409.5h8.34M315.5 405.33v8.34M315.33 385.5h8.34M319.5 381.33v8.34M295.33 308.5h8.34M299.5 304.33v8.34M319.33 424.5h8.34M323.5 420.33v8.34M306.33 394.5h8.34M310.5 390.33v8.34M304.33 352.5h8.34M308.5 348.33v8.34M329.33 419.5h8.34M333.5 415.33v8.34M318.33 423.5h8.34M322.5 419.33v8.34M316.33 422.5h8.34M320.5 418.33v8.34M298.33 420.5h8.34M302.5 416.33v8.34M300.33 408.5h8.34M304.5 404.33v8.34M331.33 420.5h8.34M335.5 416.33v8.34M300.33 415.5h8.34M304.5 411.33v8.34M322.33 397.5h8.34M326.5 393.33v8.34M301.33 351.5h8.34M305.5 347.33v8.34M308.33 346.5h8.34M312.5 342.33v8.34M323.33 423.5h8.34M327.5 419.33v8.34M348.33 429.5h8.34M352.5 425.33v8.34M327.33 422.5h8.34M331.5 418.33v8.34M305.33 357.5h8.34M309.5 353.33v8.34M321.33 387.5h8.34M325.5 383.33v8.34M316.33 373.5h8.34M320.5 369.33v8.34M315.33 354.5h8.34M319.5 350.33v8.34M299.33 425.5h8.34M303.5 421.33v8.34M328.33 435.5h8.34M332.5 431.33v8.34M314.33 438.5h8.34M318.5 434.33v8.34M302.33 342.5h8.34M306.5 338.33v8.34M318.33 387.5h8.34M322.5 383.33v8.34M310.33 397.5h8.34M314.5 393.33v8.34M300.33 411.5h8.34M304.5 407.33v8.34M305.33 366.5h8.34M309.5 362.33v8.34M325.33 405.5h8.34M329.5 401.33v8.34M320.33 406.5h8.34M324.5 402.33v8.34M297.33 320.5h8.34M301.5 316.33v8.34M323.33 439.5h8.34M327.5 435.33v8.34M307.33 348.5h8.34M311.5 344.33v8.34M303.33 412.5h8.34M307.5 408.33v8.34M307.33 399.5h8.34M311.5 395.33v8.34M312.33 376.5h8.34M316.5 372.33v8.34M304.33 348.5h8.34M308.5 344.33v8.34M333.33 409.5h8.34M337.5 405.33v8.34M308.33 332.5h8.34M312.5 328.33v8.34M300.33 380.5h8.34M304.5 376.33v8.34M298.33 337.5h8.34M302.5 333.33v8.34M328.33 384.5h8.34M332.5 380.33v8.34M315.33 376.5h8.34M319.5 372.33v8.34M307.33 412.5h8.34M311.5 408.33v8.34M297.33 434.5h8.34M301.5 430.33v8.34M299.33 389.5h8.34M303.5 385.33v8.34M308.33 359.5h8.34M312.5 355.33v8.34M326.33 434.5h8.34M330.5 430.33v8.34M288.33 442.5h8.34M292.5 438.33v8.34M319.33 403.5h8.34M323.5 399.33v8.34M312.33 389.5h8.34M316.5 385.33v8.34M317.33 445.5h8.34M321.5 441.33v8.34M328.33 428.5h8.34M332.5 424.33v8.34M327.33 405.5h8.34M331.5 401.33v8.34M318.33 442.5h8.34M322.5 438.33v8.34M321.33 411.5h8.34M325.5 407.33v8.34M319.33 429.5h8.34M323.5 425.33v8.34M306.33 424.5h8.34M310.5 420.33v8.34M314.33 337.5h8.34M318.5 333.33v8.34M307.33 388.5h8.34M311.5 384.33v8.34M330.33 423.5h8.34M334.5 419.33v8.34M321.33 401.5h8.34M325.5 397.33v8.34M303.33 318.5h8.34M307.5 314.33v8.34M300.33 322.5h8.34M304.5 318.33v8.34M302.33 418.5h8.34M306.5 414.33v8.34M323.33 438.5h8.34M327.5 434.33v8.34M313.33 436.5h8.34M317.5 432.33v8.34M298.33 431.5h8.34M302.5 427.33v8.34M314.33 371.5h8.34M318.5 367.33v8.34M322.33 385.5h8.34M326.5 381.33v8.34M311.33 383.5h8.34M315.5 379.33v8.34M309.33 399.5h8.34M313.5 395.33v8.34M300.33 416.5h8.34M304.5 412.33v8.34M313.33 361.5h8.34M317.5 357.33v8.34M309.33 355.5h8.34M313.5 351.33v8.34M307.33 378.5h8.34M311.5 374.33v8.34M313.33 437.5h8.34M317.5 433.33v8.34M315.33 427.5h8.34M319.5 423.33v8.34M318.33 446.5h8.34M322.5 442.33v8.34M305.33 372.5h8.34M309.5 368.33v8.34M329.33 431.5h8.34M333.5 427.33v8.34M307.33 384.5h8.34M311.5 380.33v8.34M303.33 398.5h8.34M307.5 394.33v8.34M308.33 399.5h8.34M312.5 395.33v8.34M313.33 397.5h8.34M317.5 393.33v8.34M312.33 386.5h8.34M316.5 382.33v8.34M316.33 442.5h8.34M320.5 438.33v8.34M307.33 344.5h8.34M311.5 340.33v8.34M310.33 418.5h8.34M314.5 414.33v8.34M323.33 399.5h8.34M327.5 395.33v8.34M304.33 429.5h8.34M308.5 425.33v8.34M319.33 428.5h8.34M323.5 424.33v8.34M319.33 383.5h8.34M323.5 379.33v8.34M310.33 362.5h8.34M314.5 358.33v8.34M314.33 406.5h8.34M318.5 402.33v8.34M290.33 373.5h8.34M294.5 369.33v8.34M318.33 388.5h8.34M322.5 384.33v8.34M298.33 424.5h8.34M302.5 420.33v8.34M329.33 408.5h8.34M333.5 404.33v8.34M308.33 432.5h8.34M312.5 428.33v8.34M334.33 426.5h8.34M338.5 422.33v8.34M319.33 438.5h8.34M323.5 434.33v8.34M321.33 438.5h8.34M325.5 434.33v8.34M334.33 427.5h8.34M338.5 423.33v8.34M295.33 436.5h8.34M299.5 432.33v8.34M327.33 433.5h8.34M331.5 429.33v8.34M315.33 426.5h8.34M319.5 422.33v8.34M311.33 409.5h8.34M315.5 405.33v8.34M309.33 404.5h8.34M313.5 400.33v8.34M310.33 375.5h8.34M314.5 371.33v8.34M337.33 445.5h8.34M341.5 441.33v8.34M309.33 372.5h8.34M313.5 368.33v8.34M312.33 406.5h8.34M316.5 402.33v8.34M329.33 427.5h8.34M333.5 423.33v8.34M299.33 319.5h8.34M303.5 315.33v8.34M303.33 362.5h8.34M307.5 358.33v8.34M327.33 418.5h8.34M331.5 414.33v8.34M309.33 395.5h8.34M313.5 391.33v8.34M313.33 356.5h8.34M317.5 352.33v8.34M294.33 297.5h8.34M298.5 293.33v8.34M309.33 311.5h8.34M313.5 307.33v8.34M296.33 406.5h8.34M300.5 402.33v8.34M320.33 375.5h8.34M324.5 371.33v8.34M309.33 407.5h8.34M313.5 403.33v8.34M319.33 407.5h8.34M323.5 403.33v8.34M312.33 423.5h8.34M316.5 419.33v8.34M308.33 352.5h8.34M312.5 348.33v8.34M331.33 429.5h8.34M335.5 425.33v8.34M347.33 401.5h8.34M351.5 397.33v8.34M286.33 440.5h8.34M290.5 436.33v8.34M315.33 444.5h8.34M319.5 440.33v8.34M335.33 438.5h8.34M339.5 434.33v8.34M325.33 420.5h8.34M329.5 416.33v8.34M333.33 432.5h8.34M337.5 428.33v8.34M299.33 326.5h8.34M303.5 322.33v8.34M299.33 379.5h8.34M303.5 375.33v8.34M313.33 360.5h8.34M317.5 356.33v8.34M319.33 393.5h8.34M323.5 389.33v8.34M306.33 379.5h8.34M310.5 375.33v8.34M316.33 363.5h8.34M320.5 359.33v8.34M299.33 336.5h8.34M303.5 332.33v8.34M326.33 407.5h8.34M330.5 403.33v8.34M311.33 434.5h8.34M315.5 430.33v8.34M301.33 346.5h8.34M305.5 342.33v8.34M303.33 404.5h8.34M307.5 400.33v8.34M309.33 411.5h8.34M313.5 407.33v8.34M329.33 428.5h8.34M333.5 424.33v8.34M303.33 364.5h8.34M307.5 360.33v8.34M312.33 371.5h8.34M316.5 367.33v8.34M319.33 437.5h8.34M323.5 433.33v8.34M313.33 324.5h8.34M317.5 320.33v8.34M294.33 320.5h8.34M298.5 316.33v8.34M335.33 437.5h8.34M339.5 433.33v8.34M318.33 417.5h8.34M322.5 413.33v8.34M300.33 372.5h8.34M304.5 368.33v8.34M299.33 324.5h8.34M303.5 320.33v8.34M313.33 398.5h8.34M317.5 394.33v8.34M330.33 393.5h8.34M334.5 389.33v8.34M315.33 391.5h8.34M319.5 387.33v8.34M294.33 387.5h8.34M298.5 383.33v8.34M319.33 420.5h8.34M323.5 416.33v8.34M316.33 407.5h8.34M320.5 403.33v8.34M328.33 381.5h8.34M332.5 377.33v8.34M300.33 348.5h8.34M304.5 344.33v8.34M300.33 316.5h8.34M304.5 312.33v8.34M318.33 425.5h8.34M322.5 421.33v8.34M311.33 417.5h8.34M315.5 413.33v8.34M298.33 382.5h8.34M302.5 378.33v8.34M307.33 381.5h8.34M311.5 377.33v8.34M302.33 380.5h8.34M306.5 376.33v8.34M307.33 374.5h8.34M311.5 370.33v8.34M312.33 379.5h8.34M316.5 375.33v8.34M299.33 295.5h8.34M303.5 291.33v8.34M340.33 432.5h8.34M344.5 428.33v8.34M310.33 410.5h8.34M314.5 406.33v8.34M327.33 438.5h8.34M331.5 434.33v8.34M324.33 420.5h8.34M328.5 416.33v8.34M303.33 438.5h8.34M307.5 434.33v8.34M307.33 394.5h8.34M311.5 390.33v8.34M309.33 380.5h8.34M313.5 376.33v8.34M302.33 434.5h8.34M306.5 430.33v8.34M303.33 347.5h8.34M307.5 343.33v8.34M314.33 404.5h8.34M318.5 400.33v8.34M308.33 363.5h8.34M312.5 359.33v8.34M316.33 418.5h8.34M320.5 414.33v8.34M302.33 385.5h8.34M306.5 381.33v8.34M297.33 309.5h8.34M301.5 305.33v8.34M307.33 336.5h8.34M311.5 332.33v8.34M297.33 340.5h8.34M301.5 336.33v8.34M330.33 430.5h8.34M334.5 426.33v8.34M316.33 399.5h8.34M320.5 395.33v8.34M319.33 407.5h8.34M323.5 403.33v8.34M312.33 368.5h8.34M316.5 364.33v8.34M306.33 348.5h8.34M310.5 344.33v8.34M332.33 427.5h8.34M336.5 423.33v8.34M318.33 389.5h8.34M322.5 385.33v8.34M327.33 416.5h8.34M331.5 412.33v8.34M306.33 380.5h8.34M310.5 376.33v8.34M306.33 305.5h8.34M310.5 301.33v8.34M308.33 438.5h8.34M312.5 434.33v8.34M303.33 382.5h8.34M307.5 378.33v8.34M309.33 430.5h8.34M313.5 426.33v8.34M303.33 406.5h8.34M307.5 402.33v8.34M320.33 377.5h8.34M324.5 373.33v8.34M295.33 298.5h8.34M299.5 294.33v8.34M320.33 437.5h8.34M324.5 433.33v8.34M295.33 295.5h8.34M299.5 291.33v8.34M308.33 437.5h8.34M312.5 433.33v8.34M320.33 375.5h8.34M324.5 371.33v8.34M298.33 387.5h8.34M302.5 383.33v8.34M299.33 313.5h8.34M303.5 309.33v8.34M332.33 421.5h8.34M336.5 417.33v8.34M338.33 437.5h8.34M342.5 433.33v8.34M298.33 314.5h8.34M302.5 310.33v8.34M301.33 426.5h8.34M305.5 422.33v8.34M302.33 443.5h8.34M306.5 439.33v8.34M303.33 318.5h8.34M307.5 314.33v8.34M297.33 374.5h8.34M301.5 370.33v8.34M314.33 413.5h8.34M318.5 409.33v8.34M303.33 436.5h8.34M307.5 432.33v8.34M310.33 384.5h8.34M314.5 380.33v8.34M297.33 401.5h8.34M301.5 397.33v8.34M317.33 433.5h8.34M321.5 429.33v8.34M330.33 420.5h8.34M334.5 416.33v8.34M308.33 431.5h8.34M312.5 427.33v8.34M325.33 433.5h8.34M329.5 429.33v8.34M311.33 363.5h8.34M315.5 359.33v8.34M303.33 322.5h8.34M307.5 318.33v8.34M309.33 407.5h8.34M313.5 403.33v8.34M293.33 332.5h8.34M297.5 328.33v8.34M305.33 380.5h8.34M309.5 376.33v8.34M295.33 384.5h8.34M299.5 380.33v8.34M346.33 424.5h8.34M350.5 420.33v8.34M303.33 319.5h8.34M307.5 315.33v8.34M323.33 423.5h8.34M327.5 419.33v8.34M321.33 445.5h8.34M325.5 441.33v8.34M298.33 387.5h8.34M302.5 383.33v8.34M303.33 355.5h8.34M307.5 351.33v8.34M301.33 318.5h8.34M305.5 314.33v8.34M307.33 392.5h8.34M311.5 388.33v8.34M327.33 403.5h8.34M331.5 399.33v8.34M322.33 442.5h8.34M326.5 438.33v8.34M318.33 354.5h8.34M322.5 350.33v8.34M322.33 413.5h8.34M326.5 409.33v8.34M308.33 408.5h8.34M312.5 404.33v8.34M314.33 374.5h8.34M318.5 370.33v8.34M307.33 413.5h8.34M311.5 409.33v8.34M313.33 396.5h8.34M317.5 392.33v8.34M307.33 433.5h8.34M311.5 429.33v8.34M303.33 339.5h8.34M307.5 335.33v8.34M319.33 414.5h8.34M323.5 410.33v8.34M305.33 437.5h8.34M309.5 433.33v8.34M320.33 429.5h8.34M324.5 425.33v8.34M298.33 353.5h8.34M302.5 349.33v8.34M302.33 324.5h8.34M306.5 320.33v8.34M330.33 407.5h8.34M334.5 403.33v8.34M326.33 429.5h8.34M330.5 425.33v8.34M315.33 437.5h8.34M319.5 433.33v8.34M305.33 360.5h8.34M309.5 356.33v8.34M345.33 427.5h8.34M349.5 423.33v8.34M300.33 360.5h8.34M304.5 356.33v8.34M305.33 329.5h8.34M309.5 325.33v8.34M316.33 376.5h8.34M320.5 372.33v8.34M319.33 437.5h8.34M323.5 433.33v8.34M320.33 424.5h8.34M324.5 420.33v8.34M291.33 375.5h8.34M295.5 371.33v8.34M335.33 411.5h8.34M339.5 407.33v8.34M304.33 370.5h8.34M308.5 366.33v8.34M307.33 345.5h8.34M311.5 341.33v8.34M325.33 426.5h8.34M329.5 422.33v8.34M323.33 373.5h8.34M327.5 369.33v8.34M309.33 367.5h8.34M313.5 363.33v8.34M314.33 408.5h8.34M318.5 404.33v8.34M316.33 395.5h8.34M320.5 391.33v8.34M310.33 386.5h8.34M314.5 382.33v8.34M324.33 353.5h8.34M328.5 349.33v8.34M313.33 393.5h8.34M317.5 389.33v8.34M325.33 434.5h8.34M329.5 430.33v8.34M313.33 337.5h8.34M317.5 333.33v8.34M305.33 408.5h8.34M309.5 404.33v8.34M307.33 433.5h8.34M311.5 429.33v8.34M312.33 336.5h8.34M316.5 332.33v8.34M296.33 318.5h8.34M300.5 314.33v8.34M318.33 412.5h8.34M322.5 408.33v8.34M334.33 422.5h8.34M338.5 418.33v8.34M324.33 376.5h8.34M328.5 372.33v8.34M296.33 446.5h8.34M300.5 442.33v8.34M334.33 417.5h8.34M338.5 413.33v8.34M294.33 346.5h8.34M298.5 342.33v8.34M320.33 414.5h8.34M324.5 410.33v8.34M302.33 419.5h8.34M306.5 415.33v8.34M332.33 443.5h8.34M336.5 439.33v8.34M312.33 381.5h8.34M316.5 377.33v8.34M312.33 431.5h8.34M316.5 427.33v8.34M312.33 328.5h8.34M316.5 324.33v8.34M303.33 337.5h8.34M307.5 333.33v8.34M294.33 424.5h8.34M298.5 420.33v8.34M319.33 438.5h8.34M323.5 434.33v8.34M308.33 321.5h8.34M312.5 317.33v8.34M313.33 420.5h8.34M317.5 416.33v8.34M300.33 337.5h8.34M304.5 333.33v8.34M316.33 378.5h8.34M320.5 374.33v8.34M316.33 369.5h8.34M320.5 365.33v8.34M296.33 320.5h8.34M300.5 316.33v8.34M294.33 297.5h8.34M298.5 293.33v8.34M323.33 407.5h8.34M327.5 403.33v8.34M320.33 360.5h8.34M324.5 356.33v8.34M328.33 438.5h8.34M332.5 434.33v8.34M315.33 389.5h8.34M319.5 385.33v8.34M315.33 354.5h8.34M319.5 350.33v8.34M317.33 420.5h8.34M321.5 416.33v8.34M337.33 424.5h8.34M341.5 420.33v8.34M297.33 321.5h8.34M301.5 317.33v8.34M309.33 399.5h8.34M313.5 395.33v8.34M305.33 407.5h8.34M309.5 403.33v8.34M300.33 396.5h8.34M304.5 392.33v8.34M308.33 338.5h8.34M312.5 334.33v8.34M320.33 424.5h8.34M324.5 420.33v8.34M298.33 352.5h8.34M302.5 348.33v8.34M297.33 342.5h8.34M301.5 338.33v8.34M327.33 389.5h8.34M331.5 385.33v8.34M302.33 377.5h8.34M306.5 373.33v8.34M298.33 371.5h8.34M302.5 367.33v8.34M308.33 309.5h8.34M312.5 305.33v8.34M293.33 322.5h8.34M297.5 318.33v8.34M306.33 394.5h8.34M310.5 390.33v8.34M316.33 404.5h8.34M320.5 400.33v8.34M315.33 365.5h8.34M319.5 361.33v8.34M308.33 386.5h8.34M312.5 382.33v8.34M330.33 442.5h8.34M334.5 438.33v8.34M314.33 383.5h8.34M318.5 379.33v8.34M324.33 413.5h8.34M328.5 409.33v8.34M316.33 417.5h8.34M320.5 413.33v8.34M313.33 442.5h8.34M317.5 438.33v8.34M321.33 431.5h8.34M325.5 427.33v8.34M297.33 321.5h8.34M301.5 317.33v8.34M298.33 375.5h8.34M302.5 371.33v8.34M307.33 370.5h8.34M311.5 366.33v8.34M306.33 385.5h8.34M310.5 381.33v8.34M312.33 412.5h8.34M316.5 408.33v8.34M309.33 433.5h8.34M313.5 429.33v8.34M320.33 386.5h8.34M324.5 382.33v8.34M303.33 433.5h8.34M307.5 429.33v8.34M353.33 440.5h8.34M357.5 436.33v8.34M317.33 429.5h8.34M321.5 425.33v8.34M304.33 441.5h8.34M308.5 437.33v8.34M319.33 412.5h8.34M323.5 408.33v8.34M305.33 387.5h8.34M309.5 383.33v8.34M308.33 437.5h8.34M312.5 433.33v8.34M315.33 438.5h8.34M319.5 434.33v8.34M327.33 440.5h8.34M331.5 436.33v8.34M306.33 298.5h8.34M310.5 294.33v8.34M315.33 427.5h8.34M319.5 423.33v8.34M304.33 369.5h8.34M308.5 365.33v8.34M331.33 438.5h8.34M335.5 434.33v8.34M312.33 435.5h8.34M316.5 431.33v8.34M295.33 418.5h8.34M299.5 414.33v8.34M325.33 427.5h8.34M329.5 423.33v8.34M302.33 316.5h8.34M306.5 312.33v8.34M297.33 296.5h8.34M301.5 292.33v8.34M314.33 419.5h8.34M318.5 415.33v8.34M311.33 387.5h8.34M315.5 383.33v8.34M339.33 436.5h8.34M343.5 432.33v8.34M302.33 365.5h8.34M306.5 361.33v8.34M309.33 375.5h8.34M313.5 371.33v8.34M306.33 361.5h8.34M310.5 357.33v8.34M300.33 318.5h8.34M304.5 314.33v8.34M310.33 380.5h8.34M314.5 376.33v8.34M308.33 386.5h8.34M312.5 382.33v8.34M316.33 386.5h8.34M320.5 382.33v8.34M317.33 386.5h8.34M321.5 382.33v8.34M304.33 354.5h8.34M308.5 350.33v8.34M317.33 434.5h8.34M321.5 430.33v8.34M310.33 406.5h8.34M314.5 402.33v8.34M291.33 300.5h8.34M295.5 296.33v8.34M315.33 431.5h8.34M319.5 427.33v8.34M302.33 407.5h8.34M306.5 403.33v8.34M323.33 446.5h8.34M327.5 442.33v8.34M306.33 412.5h8.34M310.5 408.33v8.34M300.33 344.5h8.34M304.5 340.33v8.34M316.33 429.5h8.34M320.5 425.33v8.34M322.33 430.5h8.34M326.5 426.33v8.34M327.33 396.5h8.34M331.5 392.33v8.34M304.33 383.5h8.34M308.5 379.33v8.34M304.33 366.5h8.34M308.5 362.33v8.34M322.33 413.5h8.34M326.5 409.33v8.34M319.33 357.5h8.34M323.5 353.33v8.34M299.33 426.5h8.34M303.5 422.33v8.34M302.33 342.5h8.34M306.5 338.33v8.34M308.33 370.5h8.34M312.5 366.33v8.34M316.33 373.5h8.34M320.5 369.33v8.34M312.33 326.5h8.34M316.5 322.33v8.34M290.33 400.5h8.34M294.5 396.33v8.34M306.33 378.5h8.34M310.5 374.33v8.34M349.33 434.5h8.34M353.5 430.33v8.34M312.33 403.5h8.34M316.5 399.33v8.34M324.33 436.5h8.34M328.5 432.33v8.34M308.33 380.5h8.34M312.5 376.33v8.34M317.33 388.5h8.34M321.5 384.33v8.34M327.33 423.5h8.34M331.5 419.33v8.34M332.33 432.5h8.34M336.5 428.33v8.34M300.33 419.5h8.34M304.5 415.33v8.34M312.33 385.5h8.34M316.5 381.33v8.34M316.33 430.5h8.34M320.5 426.33v8.34M334.33 431.5h8.34M338.5 427.33v8.34M306.33 418.5h8.34M310.5 414.33v8.34M310.33 429.5h8.34M314.5 425.33v8.34M300.33 347.5h8.34M304.5 343.33v8.34M326.33 383.5h8.34M330.5 379.33v8.34M301.33 419.5h8.34M305.5 415.33v8.34M305.33 350.5h8.34M309.5 346.33v8.34M313.33 428.5h8.34M317.5 424.33v8.34M311.33 427.5h8.34M315.5 423.33v8.34M296.33 422.5h8.34M300.5 418.33v8.34M306.33 431.5h8.34M310.5 427.33v8.34M327.33 419.5h8.34M331.5 415.33v8.34M299.33 437.5h8.34M303.5 433.33v8.34M307.33 352.5h8.34M311.5 348.33v8.34M307.33 323.5h8.34M311.5 319.33v8.34M313.33 438.5h8.34M317.5 434.33v8.34M311.33 397.5h8.34M315.5 393.33v8.34M308.33 375.5h8.34M312.5 371.33v8.34M311.33 437.5h8.34M315.5 433.33v8.34M312.33 377.5h8.34M316.5 373.33v8.34M324.33 401.5h8.34M328.5 397.33v8.34M318.33 429.5h8.34M322.5 425.33v8.34M326.33 429.5h8.34M330.5 425.33v8.34M306.33 429.5h8.34M310.5 425.33v8.34M314.33 402.5h8.34M318.5 398.33v8.34M324.33 428.5h8.34M328.5 424.33v8.34M295.33 327.5h8.34M299.5 323.33v8.34M316.33 377.5h8.34M320.5 373.33v8.34M308.33 338.5h8.34M312.5 334.33v8.34M310.33 376.5h8.34M314.5 372.33v8.34M301.33 441.5h8.34M305.5 437.33v8.34M316.33 351.5h8.34M320.5 347.33v8.34M290.33 292.5h8.34M294.5 288.33v8.34M309.33 309.5h8.34M313.5 305.33v8.34M301.33 320.5h8.34M305.5 316.33v8.34M306.33 376.5h8.34M310.5 372.33v8.34M316.33 365.5h8.34M320.5 361.33v8.34M308.33 352.5h8.34M312.5 348.33v8.34M307.33 365.5h8.34M311.5 361.33v8.34M311.33 385.5h8.34M315.5 381.33v8.34M315.33 433.5h8.34M319.5 429.33v8.34M311.33 433.5h8.34M315.5 429.33v8.34M311.33 388.5h8.34M315.5 384.33v8.34M331.33 427.5h8.34M335.5 423.33v8.34M303.33 359.5h8.34M307.5 355.33v8.34M312.33 415.5h8.34M316.5 411.33v8.34M325.33 428.5h8.34M329.5 424.33v8.34M320.33 439.5h8.34M324.5 435.33v8.34M314.33 418.5h8.34M318.5 414.33v8.34M321.33 421.5h8.34M325.5 417.33v8.34M307.33 392.5h8.34M311.5 388.33v8.34M321.33 439.5h8.34M325.5 435.33v8.34M319.33 416.5h8.34M323.5 412.33v8.34M287.33 398.5h8.34M291.5 394.33v8.34M306.33 355.5h8.34M310.5 351.33v8.34M333.33 437.5h8.34M337.5 433.33v8.34M309.33 373.5h8.34M313.5 369.33v8.34M321.33 394.5h8.34M325.5 390.33v8.34M312.33 416.5h8.34M316.5 412.33v8.34M313.33 377.5h8.34M317.5 373.33v8.34M306.33 341.5h8.34M310.5 337.33v8.34M328.33 438.5h8.34M332.5 434.33v8.34M302.33 339.5h8.34M306.5 335.33v8.34M323.33 425.5h8.34M327.5 421.33v8.34M315.33 422.5h8.34M319.5 418.33v8.34M314.33 393.5h8.34M318.5 389.33v8.34M317.33 405.5h8.34M321.5 401.33v8.34M313.33 429.5h8.34M317.5 425.33v8.34M304.33 379.5h8.34M308.5 375.33v8.34M298.33 301.5h8.34M302.5 297.33v8.34M303.33 423.5h8.34M307.5 419.33v8.34M306.33 435.5h8.34M310.5 431.33v8.34M306.33 421.5h8.34M310.5 417.33v8.34M324.33 423.5h8.34M328.5 419.33v8.34M332.33 423.5h8.34M336.5 419.33v8.34M302.33 418.5h8.34M306.5 414.33v8.34M303.33 380.5h8.34M307.5 376.33v8.34M320.33 333.5h8.34M324.5 329.33v8.34M313.33 389.5h8.34M317.5 385.33v8.34M330.33 408.5h8.34M334.5 404.33v8.34M315.33 358.5h8.34M319.5 354.33v8.34M308.33 397.5h8.34M312.5 393.33v8.34M304.33 341.5h8.34M308.5 337.33v8.34M327.33 395.5h8.34M331.5 391.33v8.34M288.33 300.5h8.34M292.5 296.33v8.34M308.33 295.5h8.34M312.5 291.33v8.34M302.33 321.5h8.34M306.5 317.33v8.34M306.33 375.5h8.34M310.5 371.33v8.34M310.33 416.5h8.34M314.5 412.33v8.34M313.33 394.5h8.34M317.5 390.33v8.34M311.33 349.5h8.34M315.5 345.33v8.34M328.33 432.5h8.34M332.5 428.33v8.34M316.33 401.5h8.34M320.5 397.33v8.34M313.33 353.5h8.34M317.5 349.33v8.34M305.33 428.5h8.34M309.5 424.33v8.34M299.33 395.5h8.34M303.5 391.33v8.34M312.33 365.5h8.34M316.5 361.33v8.34M323.33 416.5h8.34M327.5 412.33v8.34M326.33 425.5h8.34M330.5 421.33v8.34M328.33 435.5h8.34M332.5 431.33v8.34M302.33 399.5h8.34M306.5 395.33v8.34M309.33 392.5h8.34M313.5 388.33v8.34M314.33 391.5h8.34M318.5 387.33v8.34M318.33 367.5h8.34M322.5 363.33v8.34M321.33 365.5h8.34M325.5 361.33v8.34M308.33 335.5h8.34M312.5 331.33v8.34M301.33 300.5h8.34M305.5 296.33v8.34M320.33 436.5h8.34M324.5 432.33v8.34M294.33 367.5h8.34M298.5 363.33v8.34M310.33 356.5h8.34M314.5 352.33v8.34M315.33 437.5h8.34M319.5 433.33v8.34M306.33 357.5h8.34M310.5 353.33v8.34M299.33 345.5h8.34M303.5 341.33v8.34M318.33 413.5h8.34M322.5 409.33v8.34M297.33 321.5h8.34M301.5 317.33v8.34M322.33 427.5h8.34M326.5 423.33v8.34M307.33 395.5h8.34M311.5 391.33v8.34M307.33 443.5h8.34M311.5 439.33v8.34M331.33 429.5h8.34M335.5 425.33v8.34M323.33 399.5h8.34M327.5 395.33v8.34M295.33 423.5h8.34M299.5 419.33v8.34M324.33 407.5h8.34M328.5 403.33v8.34M315.33 319.5h8.34M319.5 315.33v8.34M298.33 336.5h8.34M302.5 332.33v8.34M316.33 357.5h8.34M320.5 353.33v8.34M361.33 432.5h8.34M365.5 428.33v8.34M291.33 380.5h8.34M295.5 376.33v8.34M327.33 434.5h8.34M331.5 430.33v8.34M284.33 391.5h8.34M288.5 387.33v8.34M316.33 350.5h8.34M320.5 346.33v8.34M356.33 436.5h8.34M360.5 432.33v8.34M332.33 426.5h8.34M336.5 422.33v8.34M284.33 392.5h8.34M288.5 388.33v8.34M299.33 403.5h8.34M303.5 399.33v8.34M286.33 329.5h8.34M290.5 325.33v8.34M283.33 446.5h8.34M287.5 442.33v8.34M299.33 370.5h8.34M303.5 366.33v8.34M301.33 386.5h8.34M305.5 382.33v8.34M309.33 407.5h8.34M313.5 403.33v8.34M333.33 416.5h8.34M337.5 412.33v8.34M291.33 371.5h8.34M295.5 367.33v8.34M298.33 350.5h8.34M302.5 346.33v8.34M306.33 299.5h8.34M310.5 295.33v8.34M332.33 403.5h8.34M336.5 399.33v8.34M357.33 444.5h8.34M361.5 440.33v8.34M335.33 400.5h8.34M339.5 396.33v8.34M317.33 395.5h8.34M321.5 391.33v8.34M290.33 405.5h8.34M294.5 401.33v8.34M318.33 396.5h8.34M322.5 392.33v8.34M305.33 325.5h8.34M309.5 321.33v8.34M293.33 319.5h8.34M297.5 315.33v8.34M290.33 435.5h8.34M294.5 431.33v8.34M297.33 325.5h8.34M301.5 321.33v8.34M333.33 386.5h8.34M337.5 382.33v8.34M329.33 355.5h8.34M333.5 351.33v8.34M291.33 302.5h8.34M295.5 298.33v8.34M300.33 293.5h8.34M304.5 289.33v8.34M306.33 379.5h8.34M310.5 375.33v8.34M290.33 294.5h8.34M294.5 290.33v8.34M319.33 359.5h8.34M323.5 355.33v8.34M323.33 385.5h8.34M327.5 381.33v8.34M295.33 443.5h8.34M299.5 439.33v8.34M291.33 406.5h8.34M295.5 402.33v8.34M289.33 437.5h8.34M293.5 433.33v8.34M368.33 443.5h8.34M372.5 439.33v8.34M285.33 419.5h8.34M289.5 415.33v8.34M303.33 362.5h8.34M307.5 358.33v8.34M285.33 342.5h8.34M289.5 338.33v8.34M284.33 320.5h8.34M288.5 316.33v8.34M304.33 426.5h8.34M308.5 422.33v8.34M295.33 390.5h8.34M299.5 386.33v8.34M302.33 355.5h8.34M306.5 351.33v8.34M305.33 429.5h8.34M309.5 425.33v8.34M316.33 322.5h8.34M320.5 318.33v8.34M326.33 427.5h8.34M330.5 423.33v8.34M315.33 369.5h8.34M319.5 365.33v8.34M296.33 441.5h8.34M300.5 437.33v8.34M331.33 403.5h8.34M335.5 399.33v8.34M296.33 331.5h8.34M300.5 327.33v8.34M303.33 363.5h8.34M307.5 359.33v8.34M286.33 331.5h8.34M290.5 327.33v8.34M303.33 381.5h8.34M307.5 377.33v8.34M307.33 339.5h8.34M311.5 335.33v8.34M285.33 389.5h8.34M289.5 385.33v8.34M306.33 312.5h8.34M310.5 308.33v8.34M328.33 424.5h8.34M332.5 420.33v8.34M331.33 403.5h8.34M335.5 399.33v8.34M313.33 351.5h8.34M317.5 347.33v8.34M295.33 432.5h8.34M299.5 428.33v8.34M284.33 405.5h8.34M288.5 401.33v8.34M310.33 431.5h8.34M314.5 427.33v8.34M318.33 382.5h8.34M322.5 378.33v8.34M338.33 438.5h8.34M342.5 434.33v8.34M345.33 419.5h8.34M349.5 415.33v8.34M303.33 400.5h8.34M307.5 396.33v8.34M344.33 440.5h8.34M348.5 436.33v8.34M304.33 395.5h8.34M308.5 391.33v8.34M328.33 399.5h8.34M332.5 395.33v8.34M324.33 393.5h8.34M328.5 389.33v8.34M327.33 409.5h8.34M331.5 405.33v8.34M300.33 344.5h8.34M304.5 340.33v8.34M349.33 437.5h8.34M353.5 433.33v8.34M343.33 393.5h8.34M347.5 389.33v8.34M282.33 355.5h8.34M286.5 351.33v8.34M293.33 304.5h8.34M297.5 300.33v8.34M285.33 317.5h8.34M289.5 313.33v8.34M300.33 345.5h8.34M304.5 341.33v8.34M308.33 305.5h8.34M312.5 301.33v8.34M287.33 354.5h8.34M291.5 350.33v8.34M286.33 356.5h8.34M290.5 352.33v8.34M288.33 398.5h8.34M292.5 394.33v8.34M307.33 301.5h8.34M311.5 297.33v8.34M298.33 413.5h8.34M302.5 409.33v8.34M300.33 364.5h8.34M304.5 360.33v8.34M303.33 421.5h8.34M307.5 417.33v8.34M308.33 312.5h8.34M312.5 308.33v8.34M289.33 343.5h8.34M293.5 339.33v8.34M284.33 421.5h8.34M288.5 417.33v8.34M290.33 388.5h8.34M294.5 384.33v8.34M308.33 436.5h8.34M312.5 432.33v8.34M285.33 440.5h8.34M289.5 436.33v8.34M291.33 320.5h8.34M295.5 316.33v8.34M299.33 355.5h8.34M303.5 351.33v8.34M310.33 334.5h8.34M314.5 330.33v8.34M297.33 431.5h8.34M301.5 427.33v8.34M294.33 334.5h8.34M298.5 330.33v8.34M340.33 441.5h8.34M344.5 437.33v8.34M289.33 427.5h8.34M293.5 423.33v8.34M315.33 367.5h8.34M319.5 363.33v8.34M285.33 385.5h8.34M289.5 381.33v8.34M302.33 342.5h8.34M306.5 338.33v8.34M285.33 301.5h8.34M289.5 297.33v8.34M296.33 313.5h8.34M300.5 309.33v8.34M335.33 398.5h8.34M339.5 394.33v8.34M321.33 366.5h8.34M325.5 362.33v8.34M296.33 379.5h8.34M300.5 375.33v8.34M336.33 400.5h8.34M340.5 396.33v8.34M283.33 428.5h8.34M287.5 424.33v8.34M306.33 382.5h8.34M310.5 378.33v8.34M341.33 412.5h8.34M345.5 408.33v8.34M298.33 322.5h8.34M302.5 318.33v8.34M296.33 367.5h8.34M300.5 363.33v8.34M301.33 419.5h8.34M305.5 415.33v8.34M359.33 425.5h8.34M363.5 421.33v8.34M339.33 430.5h8.34M343.5 426.33v8.34M298.33 404.5h8.34M302.5 400.33v8.34M282.33 295.5h8.34M286.5 291.33v8.34M301.33 446.5h8.34M305.5 442.33v8.34M347.33 410.5h8.34M351.5 406.33v8.34M293.33 438.5h8.34M297.5 434.33v8.34M299.33 400.5h8.34M303.5 396.33v8.34M334.33 424.5h8.34M338.5 420.33v8.34M312.33 363.5h8.34M316.5 359.33v8.34M316.33 380.5h8.34M320.5 376.33v8.34M320.33 344.5h8.34M324.5 340.33v8.34M324.33 372.5h8.34M328.5 368.33v8.34M300.33 401.5h8.34M304.5 397.33v8.34M282.33 411.5h8.34M286.5 407.33v8.34M305.33 414.5h8.34M309.5 410.33v8.34M360.33 433.5h8.34M364.5 429.33v8.34M343.33 433.5h8.34M347.5 429.33v8.34M338.33 372.5h8.34M342.5 368.33v8.34M334.33 408.5h8.34M338.5 404.33v8.34M285.33 436.5h8.34M289.5 432.33v8.34M328.33 418.5h8.34M332.5 414.33v8.34M299.33 361.5h8.34M303.5 357.33v8.34M319.33 340.5h8.34M323.5 336.33v8.34M345.33 362.5h8.34M349.5 358.33v8.34M325.33 393.5h8.34M329.5 389.33v8.34M304.33 426.5h8.34M308.5 422.33v8.34M304.33 397.5h8.34M308.5 393.33v8.34M291.33 435.5h8.34M295.5 431.33v8.34M288.33 383.5h8.34M292.5 379.33v8.34M348.33 426.5h8.34M352.5 422.33v8.34M281.33 438.5h8.34M285.5 434.33v8.34M314.33 437.5h8.34M318.5 433.33v8.34M245.33 437.5h8.34M249.5 433.33v8.34M253.33 438.5h8.34M257.5 434.33v8.34M309.33 439.5h8.34M313.5 435.33v8.34M294.33 440.5h8.34M298.5 436.33v8.34M257.33 440.5h8.34M261.5 436.33v8.34M254.33 437.5h8.34M258.5 433.33v8.34M304.33 438.5h8.34M308.5 434.33v8.34M298.33 437.5h8.34M302.5 433.33v8.34M276.33 438.5h8.34M280.5 434.33v8.34M258.33 440.5h8.34M262.5 436.33v8.34M272.33 438.5h8.34M276.5 434.33v8.34M309.33 438.5h8.34M313.5 434.33v8.34M290.33 437.5h8.34M294.5 433.33v8.34M303.33 438.5h8.34M307.5 434.33v8.34M274.33 436.5h8.34M278.5 432.33v8.34M289.33 438.5h8.34M293.5 434.33v8.34M285.33 437.5h8.34M289.5 433.33v8.34M250.33 438.5h8.34M254.5 434.33v8.34M276.33 437.5h8.34M280.5 433.33v8.34M253.33 438.5h8.34M257.5 434.33v8.34M300.33 437.5h8.34M304.5 433.33v8.34M291.33 438.5h8.34M295.5 434.33v8.34M273.33 439.5h8.34M277.5 435.33v8.34M241.33 438.5h8.34M245.5 434.33v8.34M273.33 438.5h8.34M277.5 434.33v8.34M309.33 438.5h8.34M313.5 434.33v8.34M271.33 438.5h8.34M275.5 434.33v8.34M281.33 439.5h8.34M285.5 435.33v8.34M277.33 438.5h8.34M281.5 434.33v8.34M255.33 438.5h8.34M259.5 434.33v8.34M300.33 439.5h8.34M304.5 435.33v8.34M292.33 438.5h8.34M296.5 434.33v8.34M244.33 436.5h8.34M248.5 432.33v8.34M302.33 438.5h8.34M306.5 434.33v8.34M279.33 438.5h8.34M283.5 434.33v8.34M244.33 438.5h8.34M248.5 434.33v8.34M315.33 437.5h8.34M319.5 433.33v8.34M303.33 438.5h8.34M307.5 434.33v8.34M262.33 437.5h8.34M266.5 433.33v8.34M315.33 435.5h8.34M319.5 431.33v8.34M257.33 437.5h8.34M261.5 433.33v8.34M300.33 438.5h8.34M304.5 434.33v8.34M287.33 438.5h8.34M291.5 434.33v8.34M284.33 437.5h8.34M288.5 433.33v8.34M258.33 437.5h8.34M262.5 433.33v8.34M310.33 438.5h8.34M314.5 434.33v8.34M283.33 437.5h8.34M287.5 433.33v8.34M305.33 438.5h8.34M309.5 434.33v8.34M252.33 437.5h8.34M256.5 433.33v8.34M293.33 437.5h8.34M297.5 433.33v8.34M310.33 437.5h8.34M314.5 433.33v8.34M248.33 440.5h8.34M252.5 436.33v8.34M244.33 436.5h8.34M248.5 432.33v8.34M315.33 439.5h8.34M319.5 435.33v8.34M300.33 437.5h8.34M304.5 433.33v8.34M311.33 438.5h8.34M315.5 434.33v8.34M302.33 438.5h8.34M306.5 434.33v8.34M276.33 437.5h8.34M280.5 433.33v8.34M293.33 438.5h8.34M297.5 434.33v8.34M297.33 440.5h8.34M301.5 436.33v8.34M245.33 437.5h8.34M249.5 433.33v8.34M244.33 438.5h8.34M248.5 434.33v8.34M254.33 437.5h8.34M258.5 433.33v8.34M280.33 439.5h8.34M284.5 435.33v8.34M292.33 438.5h8.34M296.5 434.33v8.34M269.33 437.5h8.34M273.5 433.33v8.34M316.33 439.5h8.34M320.5 435.33v8.34M304.33 437.5h8.34M308.5 433.33v8.34M310.33 439.5h8.34M314.5 435.33v8.34M285.33 439.5h8.34M289.5 435.33v8.34M275.33 438.5h8.34M279.5 434.33v8.34M273.33 438.5h8.34M277.5 434.33v8.34M297.33 436.5h8.34M301.5 432.33v8.34M283.33 438.5h8.34M287.5 434.33v8.34M267.33 438.5h8.34M271.5 434.33v8.34M242.33 438.5h8.34M246.5 434.33v8.34M258.33 437.5h8.34M262.5 433.33v8.34M250.33 437.5h8.34M254.5 433.33v8.34M296.33 440.5h8.34M300.5 436.33v8.34M292.33 438.5h8.34M296.5 434.33v8.34M256.33 437.5h8.34M260.5 433.33v8.34M298.33 438.5h8.34M302.5 434.33v8.34M268.33 437.5h8.34M272.5 433.33v8.34M250.33 437.5h8.34M254.5 433.33v8.34M242.33 437.5h8.34M246.5 433.33v8.34M314.33 437.5h8.34M318.5 433.33v8.34M275.33 438.5h8.34M279.5 434.33v8.34M306.33 438.5h8.34M310.5 434.33v8.34M243.33 439.5h8.34M247.5 435.33v8.34M245.33 437.5h8.34M249.5 433.33v8.34M300.33 438.5h8.34M304.5 434.33v8.34M276.33 439.5h8.34M280.5 435.33v8.34M296.33 440.5h8.34M300.5 436.33v8.34M252.33 438.5h8.34M256.5 434.33v8.34M253.33 440.5h8.34M257.5 436.33v8.34M243.33 436.5h8.34M247.5 432.33v8.34M300.33 439.5h8.34M304.5 435.33v8.34M240.33 438.5h8.34M244.5 434.33v8.34M282.33 439.5h8.34M286.5 435.33v8.34M291.33 438.5h8.34M295.5 434.33v8.34M256.33 439.5h8.34M260.5 435.33v8.34M254.33 439.5h8.34M258.5 435.33v8.34M294.33 440.5h8.34M298.5 436.33v8.34M266.33 438.5h8.34M270.5 434.33v8.34M276.33 437.5h8.34M280.5 433.33v8.34M242.33 437.5h8.34M246.5 433.33v8.34M275.33 437.5h8.34M279.5 433.33v8.34M269.33 438.5h8.34M273.5 434.33v8.34M293.33 439.5h8.34M297.5 435.33v8.34M298.33 436.5h8.34M302.5 432.33v8.34M251.33 437.5h8.34M255.5 433.33v8.34M251.33 440.5h8.34M255.5 436.33v8.34M314.33 438.5h8.34M318.5 434.33v8.34M270.33 438.5h8.34M274.5 434.33v8.34M287.33 438.5h8.34M291.5 434.33v8.34M277.33 438.5h8.34M281.5 434.33v8.34M291.33 438.5h8.34M295.5 434.33v8.34M241.33 439.5h8.34M245.5 435.33v8.34M262.33 437.5h8.34M266.5 433.33v8.34M250.33 438.5h8.34M254.5 434.33v8.34M265.33 438.5h8.34M269.5 434.33v8.34M255.33 439.5h8.34M259.5 435.33v8.34M290.33 436.5h8.34M294.5 432.33v8.34M292.33 437.5h8.34M296.5 433.33v8.34M255.33 438.5h8.34M259.5 434.33v8.34M308.33 439.5h8.34M312.5 435.33v8.34M286.33 437.5h8.34M290.5 433.33v8.34M275.33 438.5h8.34M279.5 434.33v8.34M243.33 437.5h8.34M247.5 433.33v8.34M253.33 439.5h8.34M257.5 435.33v8.34M243.33 437.5h8.34M247.5 433.33v8.34M247.33 438.5h8.34M251.5 434.33v8.34M303.33 439.5h8.34M307.5 435.33v8.34M294.33 439.5h8.34M298.5 435.33v8.34M283.33 437.5h8.34M287.5 433.33v8.34M286.33 439.5h8.34M290.5 435.33v8.34M266.33 437.5h8.34M270.5 433.33v8.34M271.33 437.5h8.34M275.5 433.33v8.34M314.33 439.5h8.34M318.5 435.33v8.34M312.33 438.5h8.34M316.5 434.33v8.34M305.33 439.5h8.34M309.5 435.33v8.34M265.33 437.5h8.34M269.5 433.33v8.34M244.33 438.5h8.34M248.5 434.33v8.34M255.33 439.5h8.34M259.5 435.33v8.34M240.33 437.5h8.34M244.5 433.33v8.34M280.33 439.5h8.34M284.5 435.33v8.34M259.33 438.5h8.34M263.5 434.33v8.34M271.33 437.5h8.34M275.5 433.33v8.34M248.33 440.5h8.34M252.5 436.33v8.34M272.33 437.5h8.34M276.5 433.33v8.34M294.33 437.5h8.34M298.5 433.33v8.34M274.33 438.5h8.34M278.5 434.33v8.34M249.33 438.5h8.34M253.5 434.33v8.34M242.33 438.5h8.34M246.5 434.33v8.34M264.33 439.5h8.34M268.5 435.33v8.34M283.33 438.5h8.34M287.5 434.33v8.34M269.33 438.5h8.34M273.5 434.33v8.34M263.33 437.5h8.34M267.5 433.33v8.34M282.33 437.5h8.34M286.5 433.33v8.34M241.33 438.5h8.34M245.5 434.33v8.34M262.33 436.5h8.34M266.5 432.33v8.34M240.33 438.5h8.34M244.5 434.33v8.34M314.33 437.5h8.34M318.5 433.33v8.34M273.33 439.5h8.34M277.5 435.33v8.34M244.33 439.5h8.34M248.5 435.33v8.34M306.33 437.5h8.34M310.5 433.33v8.34M306.33 437.5h8.34M310.5 433.33v8.34M241.33 438.5h8.34M245.5 434.33v8.34M273.33 437.5h8.34M277.5 433.33v8.34M263.33 437.5h8.34M267.5 433.33v8.34M283.33 440.5h8.34M287.5 436.33v8.34M248.33 438.5h8.34M252.5 434.33v8.34M298.33 438.5h8.34M302.5 434.33v8.34M253.33 438.5h8.34M257.5 434.33v8.34M266.33 437.5h8.34M270.5 433.33v8.34M305.33 438.5h8.34M309.5 434.33v8.34M280.33 437.5h8.34M284.5 433.33v8.34M314.33 438.5h8.34M318.5 434.33v8.34M282.33 438.5h8.34M286.5 434.33v8.34M301.33 436.5h8.34M305.5 432.33v8.34M275.33 437.5h8.34M279.5 433.33v8.34M243.33 438.5h8.34M247.5 434.33v8.34M253.33 439.5h8.34M257.5 435.33v8.34M242.33 438.5h8.34M246.5 434.33v8.34M267.33 437.5h8.34M271.5 433.33v8.34M302.33 439.5h8.34M306.5 435.33v8.34M311.33 439.5h8.34M315.5 435.33v8.34M249.33 437.5h8.34M253.5 433.33v8.34M306.33 438.5h8.34M310.5 434.33v8.34M263.33 439.5h8.34M267.5 435.33v8.34M254.33 438.5h8.34M258.5 434.33v8.34M275.33 438.5h8.34M279.5 434.33v8.34M266.33 436.5h8.34M270.5 432.33v8.34M263.33 439.5h8.34M267.5 435.33v8.34M295.33 437.5h8.34M299.5 433.33v8.34M269.33 436.5h8.34M273.5 432.33v8.34M247.33 438.5h8.34M251.5 434.33v8.34M270.33 436.5h8.34M274.5 432.33v8.34M266.33 437.5h8.34M270.5 433.33v8.34M317.33 437.5h8.34M321.5 433.33v8.34M248.33 438.5h8.34M252.5 434.33v8.34M279.33 437.5h8.34M283.5 433.33v8.34M264.33 437.5h8.34M268.5 433.33v8.34M251.33 441.5h8.34M255.5 437.33v8.34M265.33 437.5h8.34M269.5 433.33v8.34M288.33 437.5h8.34M292.5 433.33v8.34M261.33 437.5h8.34M265.5 433.33v8.34M245.33 437.5h8.34M249.5 433.33v8.34M281.33 438.5h8.34M285.5 434.33v8.34M273.33 438.5h8.34M277.5 434.33v8.34M310.33 439.5h8.34M314.5 435.33v8.34M287.33 437.5h8.34M291.5 433.33v8.34M261.33 436.5h8.34M265.5 432.33v8.34M308.33 438.5h8.34M312.5 434.33v8.34M292.33 439.5h8.34M296.5 435.33v8.34M295.33 438.5h8.34M299.5 434.33v8.34M280.33 438.5h8.34M284.5 434.33v8.34M290.33 437.5h8.34M294.5 433.33v8.34M369.33 441.5h8.34M373.5 437.33v8.34M370.33 434.5h8.34M374.5 430.33v8.34M358.33 443.5h8.34M362.5 439.33v8.34M338.33 441.5h8.34M342.5 437.33v8.34M336.33 440.5h8.34M340.5 436.33v8.34M371.33 441.5h8.34M375.5 437.33v8.34M352.33 438.5h8.34M356.5 434.33v8.34M337.33 439.5h8.34M341.5 435.33v8.34M373.33 442.5h8.34M377.5 438.33v8.34M368.33 437.5h8.34M372.5 433.33v8.34M333.33 434.5h8.34M337.5 430.33v8.34M330.33 439.5h8.34M334.5 435.33v8.34M354.33 434.5h8.34M358.5 430.33v8.34M364.33 438.5h8.34M368.5 434.33v8.34M350.33 440.5h8.34M354.5 436.33v8.34M336.33 435.5h8.34M340.5 431.33v8.34M364.33 437.5h8.34M368.5 433.33v8.34M365.33 437.5h8.34M369.5 433.33v8.34M364.33 441.5h8.34M368.5 437.33v8.34M357.33 444.5h8.34M361.5 440.33v8.34M359.33 434.5h8.34M363.5 430.33v8.34M363.33 439.5h8.34M367.5 435.33v8.34M346.33 441.5h8.34M350.5 437.33v8.34M325.33 435.5h8.34M329.5 431.33v8.34M322.33 437.5h8.34M326.5 433.33v8.34M369.33 434.5h8.34M373.5 430.33v8.34M330.33 437.5h8.34M334.5 433.33v8.34M344.33 437.5h8.34M348.5 433.33v8.34M322.33 443.5h8.34M326.5 439.33v8.34M347.33 440.5h8.34M351.5 436.33v8.34M327.33 434.5h8.34M331.5 430.33v8.34M341.33 437.5h8.34M345.5 433.33v8.34M341.33 442.5h8.34M345.5 438.33v8.34M319.33 435.5h8.34M323.5 431.33v8.34M354.33 439.5h8.34M358.5 435.33v8.34M329.33 440.5h8.34M333.5 436.33v8.34M323.33 440.5h8.34M327.5 436.33v8.34M340.33 437.5h8.34M344.5 433.33v8.34M219.33 437.5h8.34M223.5 433.33v8.34M214.33 437.5h8.34M218.5 433.33v8.34M229.33 439.5h8.34M233.5 435.33v8.34M238.33 437.5h8.34M242.5 433.33v8.34M211.33 438.5h8.34M215.5 434.33v8.34M230.33 437.5h8.34M234.5 433.33v8.34M190.33 437.5h8.34M194.5 433.33v8.34M229.33 437.5h8.34M233.5 433.33v8.34M214.33 437.5h8.34M218.5 433.33v8.34M216.33 440.5h8.34M220.5 436.33v8.34M227.33 441.5h8.34M231.5 437.33v8.34M201.33 438.5h8.34M205.5 434.33v8.34M208.33 441.5h8.34M212.5 437.33v8.34M203.33 438.5h8.34M207.5 434.33v8.34M194.33 437.5h8.34M198.5 433.33v8.34M213.33 440.5h8.34M217.5 436.33v8.34M231.33 438.5h8.34M235.5 434.33v8.34M220.33 439.5h8.34M224.5 435.33v8.34M202.33 438.5h8.34M206.5 434.33v8.34M191.33 437.5h8.34M195.5 433.33v8.34M210.33 438.5h8.34M214.5 434.33v8.34M202.33 437.5h8.34M206.5 433.33v8.34M198.33 437.5h8.34M202.5 433.33v8.34M209.33 437.5h8.34M213.5 433.33v8.34M215.33 438.5h8.34M219.5 434.33v8.34M188.33 438.5h8.34M192.5 434.33v8.34M222.33 439.5h8.34M226.5 435.33v8.34M191.33 438.5h8.34M195.5 434.33v8.34M238.33 436.5h8.34M242.5 432.33v8.34M212.33 438.5h8.34M216.5 434.33v8.34M198.33 440.5h8.34M202.5 436.33v8.34M199.33 437.5h8.34M203.5 433.33v8.34M186.33 440.5h8.34M190.5 436.33v8.34M201.33 437.5h8.34M205.5 433.33v8.34M201.33 435.5h8.34M205.5 431.33v8.34M221.33 436.5h8.34M225.5 432.33v8.34M204.33 438.5h8.34M208.5 434.33v8.34M231.33 438.5h8.34M235.5 434.33v8.34M225.33 439.5h8.34M229.5 435.33v8.34M233.33 437.5h8.34M237.5 433.33v8.34M227.33 438.5h8.34M231.5 434.33v8.34M186.33 438.5h8.34M190.5 434.33v8.34M201.33 438.5h8.34M205.5 434.33v8.34M232.33 438.5h8.34M236.5 434.33v8.34M224.33 440.5h8.34M228.5 436.33v8.34M223.33 439.5h8.34M227.5 435.33v8.34M236.33 437.5h8.34M240.5 433.33v8.34M190.33 437.5h8.34M194.5 433.33v8.34M221.33 440.5h8.34M225.5 436.33v8.34M225.33 438.5h8.34M229.5 434.33v8.34M203.33 439.5h8.34M207.5 435.33v8.34M189.33 438.5h8.34M193.5 434.33v8.34M192.33 437.5h8.34M196.5 433.33v8.34M215.33 437.5h8.34M219.5 433.33v8.34M222.33 438.5h8.34M226.5 434.33v8.34M227.33 439.5h8.34M231.5 435.33v8.34M221.33 437.5h8.34M225.5 433.33v8.34M213.33 438.5h8.34M217.5 434.33v8.34M230.33 440.5h8.34M234.5 436.33v8.34M197.33 437.5h8.34M201.5 433.33v8.34M238.33 437.5h8.34M242.5 433.33v8.34M207.33 440.5h8.34M211.5 436.33v8.34M221.33 437.5h8.34M225.5 433.33v8.34M187.33 439.5h8.34M191.5 435.33v8.34M213.33 438.5h8.34M217.5 434.33v8.34M228.33 437.5h8.34M232.5 433.33v8.34M191.33 437.5h8.34M195.5 433.33v8.34M232.33 438.5h8.34M236.5 434.33v8.34M201.33 438.5h8.34M205.5 434.33v8.34M197.33 438.5h8.34M201.5 434.33v8.34M226.33 438.5h8.34M230.5 434.33v8.34M217.33 438.5h8.34M221.5 434.33v8.34M238.33 437.5h8.34M242.5 433.33v8.34M198.33 441.5h8.34M202.5 437.33v8.34M186.33 437.5h8.34M190.5 433.33v8.34M218.33 436.5h8.34M222.5 432.33v8.34M205.33 437.5h8.34M209.5 433.33v8.34M206.33 438.5h8.34M210.5 434.33v8.34M228.33 438.5h8.34M232.5 434.33v8.34M191.33 437.5h8.34M195.5 433.33v8.34M228.33 437.5h8.34M232.5 433.33v8.34M204.33 439.5h8.34M208.5 435.33v8.34M208.33 438.5h8.34M212.5 434.33v8.34M189.33 437.5h8.34M193.5 433.33v8.34M230.33 438.5h8.34M234.5 434.33v8.34M233.33 441.5h8.34M237.5 437.33v8.34M190.33 437.5h8.34M194.5 433.33v8.34M212.33 439.5h8.34M216.5 435.33v8.34M186.33 439.5h8.34M190.5 435.33v8.34M193.33 437.5h8.34M197.5 433.33v8.34M187.33 438.5h8.34M191.5 434.33v8.34M230.33 438.5h8.34M234.5 434.33v8.34M212.33 437.5h8.34M216.5 433.33v8.34M224.33 437.5h8.34M228.5 433.33v8.34M232.33 436.5h8.34M236.5 432.33v8.34M220.33 437.5h8.34M224.5 433.33v8.34M187.33 438.5h8.34M191.5 434.33v8.34M198.33 438.5h8.34M202.5 434.33v8.34M236.33 438.5h8.34M240.5 434.33v8.34M210.33 438.5h8.34M214.5 434.33v8.34M203.33 438.5h8.34M207.5 434.33v8.34M200.33 439.5h8.34M204.5 435.33v8.34M200.33 439.5h8.34M204.5 435.33v8.34M223.33 439.5h8.34M227.5 435.33v8.34M224.33 440.5h8.34M228.5 436.33v8.34M207.33 436.5h8.34M211.5 432.33v8.34M237.33 438.5h8.34M241.5 434.33v8.34M228.33 437.5h8.34M232.5 433.33v8.34M222.33 438.5h8.34M226.5 434.33v8.34M203.33 437.5h8.34M207.5 433.33v8.34M215.33 438.5h8.34M219.5 434.33v8.34M198.33 437.5h8.34M202.5 433.33v8.34M194.33 438.5h8.34M198.5 434.33v8.34M195.33 440.5h8.34M199.5 436.33v8.34M191.33 438.5h8.34M195.5 434.33v8.34M190.33 439.5h8.34M194.5 435.33v8.34M226.33 438.5h8.34M230.5 434.33v8.34M216.33 439.5h8.34M220.5 435.33v8.34M218.33 437.5h8.34M222.5 433.33v8.34M195.33 438.5h8.34M199.5 434.33v8.34M204.33 437.5h8.34M208.5 433.33v8.34M235.33 437.5h8.34M239.5 433.33v8.34M208.33 439.5h8.34M212.5 435.33v8.34M198.33 437.5h8.34M202.5 433.33v8.34M189.33 438.5h8.34M193.5 434.33v8.34M215.33 438.5h8.34M219.5 434.33v8.34M208.33 438.5h8.34M212.5 434.33v8.34M239.33 438.5h8.34M243.5 434.33v8.34M206.33 441.5h8.34M210.5 437.33v8.34M224.33 438.5h8.34M228.5 434.33v8.34M230.33 436.5h8.34M234.5 432.33v8.34M232.33 438.5h8.34M236.5 434.33v8.34M238.33 439.5h8.34M242.5 435.33v8.34M216.33 437.5h8.34M220.5 433.33v8.34M209.33 438.5h8.34M213.5 434.33v8.34M210.33 438.5h8.34M214.5 434.33v8.34M196.33 438.5h8.34M200.5 434.33v8.34M204.33 438.5h8.34M208.5 434.33v8.34M202.33 440.5h8.34M206.5 436.33v8.34M222.33 440.5h8.34M226.5 436.33v8.34M224.33 437.5h8.34M228.5 433.33v8.34M235.33 435.5h8.34M239.5 431.33v8.34M195.33 436.5h8.34M199.5 432.33v8.34M233.33 437.5h8.34M237.5 433.33v8.34M207.33 436.5h8.34M211.5 432.33v8.34M217.33 440.5h8.34M221.5 436.33v8.34M212.33 438.5h8.34M216.5 434.33v8.34M237.33 438.5h8.34M241.5 434.33v8.34M227.33 437.5h8.34M231.5 433.33v8.34M191.33 438.5h8.34M195.5 434.33v8.34M237.33 437.5h8.34M241.5 433.33v8.34M207.33 438.5h8.34M211.5 434.33v8.34M227.33 438.5h8.34M231.5 434.33v8.34M191.33 440.5h8.34M195.5 436.33v8.34M220.33 439.5h8.34M224.5 435.33v8.34M218.33 438.5h8.34M222.5 434.33v8.34M205.33 436.5h8.34M209.5 432.33v8.34M211.33 438.5h8.34M215.5 434.33v8.34M205.33 438.5h8.34M209.5 434.33v8.34M226.33 439.5h8.34M230.5 435.33v8.34M193.33 439.5h8.34M197.5 435.33v8.34M200.33 438.5h8.34M204.5 434.33v8.34M320.33 454.5h8.34M324.5 450.33v8.34M328.33 441.5h8.34M332.5 437.33v8.34M367.33 443.5h8.34M371.5 439.33v8.34M366.33 446.5h8.34M370.5 442.33v8.34M308.33 441.5h8.34M312.5 437.33v8.34M357.33 453.5h8.34M361.5 449.33v8.34M330.33 449.5h8.34M334.5 445.33v8.34M369.33 454.5h8.34M373.5 450.33v8.34M321.33 447.5h8.34M325.5 443.33v8.34M315.33 444.5h8.34M319.5 440.33v8.34M365.33 454.5h8.34M369.5 450.33v8.34M325.33 440.5h8.34M329.5 436.33v8.34M313.33 448.5h8.34M317.5 444.33v8.34M313.33 447.5h8.34M317.5 443.33v8.34M365.33 458.5h8.34M369.5 454.33v8.34M350.33 462.5h8.34M354.5 458.33v8.34M365.33 441.5h8.34M369.5 437.33v8.34M315.33 445.5h8.34M319.5 441.33v8.34M338.33 445.5h8.34M342.5 441.33v8.34M334.33 446.5h8.34M338.5 442.33v8.34M371.33 452.5h8.34M375.5 448.33v8.34M351.33 446.5h8.34M355.5 442.33v8.34M326.33 451.5h8.34M330.5 447.33v8.34M347.33 455.5h8.34M351.5 451.33v8.34M346.33 441.5h8.34M350.5 437.33v8.34M342.33 440.5h8.34M346.5 436.33v8.34M369.33 447.5h8.34M373.5 443.33v8.34M306.33 446.5h8.34M310.5 442.33v8.34M301.33 440.5h8.34M305.5 436.33v8.34M307.33 442.5h8.34M311.5 438.33v8.34M349.33 446.5h8.34M353.5 442.33v8.34M335.33 444.5h8.34M339.5 440.33v8.34M356.33 446.5h8.34M360.5 442.33v8.34M330.33 440.5h8.34M334.5 436.33v8.34M307.33 445.5h8.34M311.5 441.33v8.34M335.33 446.5h8.34M339.5 442.33v8.34M354.33 444.5h8.34M358.5 440.33v8.34M315.33 453.5h8.34M319.5 449.33v8.34M315.33 441.5h8.34M319.5 437.33v8.34M340.33 447.5h8.34M344.5 443.33v8.34M341.33 453.5h8.34M345.5 449.33v8.34M327.33 455.5h8.34M331.5 451.33v8.34M319.33 445.5h8.34M323.5 441.33v8.34M353.33 451.5h8.34M357.5 447.33v8.34M359.33 442.5h8.34M363.5 438.33v8.34M366.33 441.5h8.34M370.5 437.33v8.34M359.33 444.5h8.34M363.5 440.33v8.34M347.33 442.5h8.34M351.5 438.33v8.34M324.33 448.5h8.34M328.5 444.33v8.34M314.33 454.5h8.34M318.5 450.33v8.34M344.33 445.5h8.34M348.5 441.33v8.34M318.33 441.5h8.34M322.5 437.33v8.34M351.33 446.5h8.34M355.5 442.33v8.34M357.33 445.5h8.34M361.5 441.33v8.34M306.33 451.5h8.34M310.5 447.33v8.34M336.33 462.5h8.34M340.5 458.33v8.34M365.33 442.5h8.34M369.5 438.33v8.34M330.33 451.5h8.34M334.5 447.33v8.34M341.33 456.5h8.34M345.5 452.33v8.34M362.33 463.5h8.34M366.5 459.33v8.34M302.33 450.5h8.34M306.5 446.33v8.34M351.33 442.5h8.34M355.5 438.33v8.34M326.33 453.5h8.34M330.5 449.33v8.34M336.33 448.5h8.34M340.5 444.33v8.34M319.33 451.5h8.34M323.5 447.33v8.34M315.33 452.5h8.34M319.5 448.33v8.34M318.33 451.5h8.34M322.5 447.33v8.34M361.33 445.5h8.34M365.5 441.33v8.34M371.33 445.5h8.34M375.5 441.33v8.34M348.33 440.5h8.34M352.5 436.33v8.34M370.33 441.5h8.34M374.5 437.33v8.34M307.33 451.5h8.34M311.5 447.33v8.34M371.33 448.5h8.34M375.5 444.33v8.34M300.33 444.5h8.34M304.5 440.33v8.34M339.33 443.5h8.34M343.5 439.33v8.34M342.33 449.5h8.34M346.5 445.33v8.34M327.33 450.5h8.34M331.5 446.33v8.34M309.33 443.5h8.34M313.5 439.33v8.34M370.33 443.5h8.34M374.5 439.33v8.34M348.33 452.5h8.34M352.5 448.33v8.34M339.33 440.5h8.34M343.5 436.33v8.34M362.33 449.5h8.34M366.5 445.33v8.34M346.33 440.5h8.34M350.5 436.33v8.34M339.33 445.5h8.34M343.5 441.33v8.34M325.33 459.5h8.34M329.5 455.33v8.34M362.33 443.5h8.34M366.5 439.33v8.34M325.33 451.5h8.34M329.5 447.33v8.34M353.33 443.5h8.34M357.5 439.33v8.34M357.33 440.5h8.34M361.5 436.33v8.34M317.33 442.5h8.34M321.5 438.33v8.34M364.33 440.5h8.34M368.5 436.33v8.34M306.33 448.5h8.34M310.5 444.33v8.34M368.33 449.5h8.34M372.5 445.33v8.34M330.33 450.5h8.34M334.5 446.33v8.34M341.33 444.5h8.34M345.5 440.33v8.34M370.33 449.5h8.34M374.5 445.33v8.34M365.33 441.5h8.34M369.5 437.33v8.34M302.33 440.5h8.34M306.5 436.33v8.34M312.33 441.5h8.34M316.5 437.33v8.34M306.33 442.5h8.34M310.5 438.33v8.34M301.33 444.5h8.34M305.5 440.33v8.34M360.33 441.5h8.34M364.5 437.33v8.34M317.33 443.5h8.34M321.5 439.33v8.34M329.33 444.5h8.34M333.5 440.33v8.34M321.33 441.5h8.34M325.5 437.33v8.34M353.33 450.5h8.34M357.5 446.33v8.34M319.33 448.5h8.34M323.5 444.33v8.34M365.33 443.5h8.34M369.5 439.33v8.34M354.33 442.5h8.34M358.5 438.33v8.34M343.33 448.5h8.34M347.5 444.33v8.34M318.33 442.5h8.34M322.5 438.33v8.34M337.33 430.5h8.34M341.5 426.33v8.34M336.33 427.5h8.34M340.5 423.33v8.34M358.33 421.5h8.34M362.5 417.33v8.34M335.33 432.5h8.34M339.5 428.33v8.34M347.33 427.5h8.34M351.5 423.33v8.34M336.33 427.5h8.34M340.5 423.33v8.34M334.33 425.5h8.34M338.5 421.33v8.34M334.33 426.5h8.34M338.5 422.33v8.34M353.33 424.5h8.34M357.5 420.33v8.34M336.33 421.5h8.34M340.5 417.33v8.34M341.33 427.5h8.34M345.5 423.33v8.34M367.33 428.5h8.34M371.5 424.33v8.34M347.33 433.5h8.34M351.5 429.33v8.34M334.33 422.5h8.34M338.5 418.33v8.34M348.33 419.5h8.34M352.5 415.33v8.34M342.33 413.5h8.34M346.5 409.33v8.34M335.33 437.5h8.34M339.5 433.33v8.34M346.33 433.5h8.34M350.5 429.33v8.34M335.33 429.5h8.34M339.5 425.33v8.34M354.33 428.5h8.34M358.5 424.33v8.34M344.33 430.5h8.34M348.5 426.33v8.34M349.33 430.5h8.34M353.5 426.33v8.34M335.33 436.5h8.34M339.5 432.33v8.34M339.33 430.5h8.34M343.5 426.33v8.34M344.33 434.5h8.34M348.5 430.33v8.34M354.33 426.5h8.34M358.5 422.33v8.34M339.33 427.5h8.34M343.5 423.33v8.34M356.33 434.5h8.34M360.5 430.33v8.34M343.33 432.5h8.34M347.5 428.33v8.34M339.33 417.5h8.34M343.5 413.33v8.34M354.33 427.5h8.34M358.5 423.33v8.34M349.33 433.5h8.34M353.5 429.33v8.34M335.33 435.5h8.34M339.5 431.33v8.34M338.33 430.5h8.34M342.5 426.33v8.34M351.33 429.5h8.34M355.5 425.33v8.34M342.33 430.5h8.34M346.5 426.33v8.34M370.33 436.5h8.34M374.5 432.33v8.34M339.33 436.5h8.34M343.5 432.33v8.34M354.33 437.5h8.34M358.5 433.33v8.34M340.33 429.5h8.34M344.5 425.33v8.34M346.33 431.5h8.34M350.5 427.33v8.34M341.33 436.5h8.34M345.5 432.33v8.34M363.33 432.5h8.34M367.5 428.33v8.34M337.33 426.5h8.34M341.5 422.33v8.34M340.33 435.5h8.34M344.5 431.33v8.34" fill="none" stroke="#00BFBF" stroke-width="0.8"/>
<path d="M228.33 256.33l8.34 8.34M228.33 264.67l8.34 -8.34M222.33 275.33l8.34 8.34M222.33 283.67l8.34 -8.34M236.33 280.33l8.34 8.34M236.33 288.67l8.34 -8.34M233.33 328.33l8.34 8.34M233.33 336.67l8.34 -8.34M221.33 370.33l8.34 8.34M221.33 378.67l8.34 -8.34M203.33 423.33l8.34 8.34M203.33 431.67l8.34 -8.34M208.33 435.33l8.34 8.34M208.33 443.67l8.34 -8.34M224.33 436.33l8.34 8.34M224.33 444.67l8.34 -8.34M195.33 436.33l8.34 8.34M195.33 444.67l8.34 -8.34M199.33 435.33l8.34 8.34M199.33 443.67l8.34 -8.34M203.33 432.33l8.34 8.34M203.33 440.67l8.34 -8.34M191.33 434.33l8.34 8.34M191.33 442.67l8.34 -8.34M230.33 432.33l8.34 8.34M230.33 440.67l8.34 -8.34M201.33 434.33l8.34 8.34M201.33 442.67l8.34 -8.34M220.33 434.33l8.34 8.34M220.33 442.67l8.34 -8.34M227.33 433.33l8.34 8.34M227.33 441.67l8.34 -8.34M209.33 434.33l8.34 8.34M209.33 442.67l8.34 -8.34M226.33 432.33l8.34 8.34M226.33 440.67l8.34 -8.34M232.33 433.33l8.34 8.34M232.33 441.67l8.34 -8.34M205.33 435.33l8.34 8.34M205.33 443.67l8.34 -8.34M214.33 434.33l8.34 8.34M214.33 442.67l8.34 -8.34M225.33 432.33l8.34 8.34M225.33 440.67l8.34 -8.34M212.33 434.33l8.34 8.34M212.33 442.67l8.34 -8.34M190.33 436.33l8.34 8.34M190.33 444.67l8.34 -8.34M219.33 434.33l8.34 8.34M219.33 442.67l8.34 -8.34M224.33 433.33l8.34 8.34M224.33 441.67l8.34 -8.34M231.33 432.33l8.34 8.34M231.33 440.67l8.34 -8.34M232.33 432.33l8.34 8.34M232.33 440.67l8.34 -8.34M195.33 435.33l8.34 8.34M195.33 443.67l8.34 -8.34M194.33 434.33l8.34 8.34M194.33 442.67l8.34 -8.34M198.33 433.33l8.34 8.34M198.33 441.67l8.34 -8.34M207.33 435.33l8.34 8.34M207.33 443.67l8.34 -8.34M212.33 434.33l8.34 8.34M212.33 442.67l8.34 -8.34M195.33 435.33l8.34 8.34M195.33 443.67l8.34 -8.34M201.33 435.33l8.34 8.34M201.33 443.67l8.34 -8.34M233.33 434.33l8.34 8.34M233.33 442.67l8.34 -8.34M210.33 434.33l8.34 8.34M210.33 442.67l8.34 -8.34M224.33 432.33l8.34 8.34M224.33 440.67l8.34 -8.34M233.33 434.33l8.34 8.34M233.33 442.67l8.34 -8.34M193.33 435.33l8.34 8.34M193.33 443.67l8.34 -8.34M200.33 433.33l8.34 8.34M200.33 441.67l8.34 -8.34M194.33 436.33l8.34 8.34M194.33 444.67l8.34 -8.34M198.33 434.33l8.34 8.34M198.33 442.67l8.34 -8.34M188.33 433.33l8.34 8.34M188.33 441.67l8.34 -8.34M204.33 433.33l8.34 8.34M204.33 441.67l8.34 -8.34M208.33 434.33l8.34 8.34M208.33 442.67l8.34 -8.34M210.33 434.33l8.34 8.34M210.33 442.67l8.34 -8.34M225.33 437.33l8.34 8.34M225.33 445.67l8.34 -8.34M228.33 432.33l8.34 8.34M228.33 440.67l8.34 -8.34M226.33 435.33l8.34 8.34M226.33 443.67l8.34 -8.34M235.33 433.33l8.34 8.34M235.33 441.67l8.34 -8.34M225.33 434.33l8.34 8.34M225.33 442.67l8.34 -8.34M230.33 434.33l8.34 8.34M230.33 442.67l8.34 -8.34M202.33 434.33l8.34 8.34M202.33 442.67l8.34 -8.34M226.33 433.33l8.34 8.34M226.33 441.67l8.34 -8.34M194.33 433.33l8.34 8.34M194.33 441.67l8.34 -8.34M232.33 434.33l8.34 8.34M232.33 442.67l8.34 -8.34M219.33 436.33l8.34 8.34M219.33 444.67l8.34 -8.34M204.33 433.33l8.34 8.34M204.33 441.67l8.34 -8.34M192.33 431.33l8.34 8.34M192.33 439.67l8.34 -8.34M219.33 434.33l8.34 8.34M219.33 442.67l8.34 -8.34M204.33 434.33l8.34 8.34M204.33 442.67l8.34 -8.34M194.33 435.33l8.34 8.34M194.33 443.67l8.34 -8.34M234.33 436.33l8.34 8.34M234.33 444.67l8.34 -8.34M208.33 435.33l8.34 8.34M208.33 443.67l8.34 -8.34M231.33 435.33l8.34 8.34M231.33 443.67l8.34 -8.34M226.33 435.33l8.34 8.34M226.33 443.67l8.34 -8.34M188.33 434.33l8.34 8.34M188.33 442.67l8.34 -8.34M226.33 435.33l8.34 8.34M226.33 443.67l8.34 -8.34M233.33 432.33l8.34 8.34M233.33 440.67l8.34 -8.34M213.33 433.33l8.34 8.34M213.33 441.67l8.34 -8.34M227.33 434.33l8.34 8.34M227.33 442.67l8.34 -8.34M199.33 435.33l8.34 8.34M199.33 443.67l8.34 -8.34M206.33 434.33l8.34 8.34M206.33 442.67l8.34 -8.34M200.33 436.33l8.34 8.34M200.33 444.67l8.34 -8.34M226.33 433.33l8.34 8.34M226.33 441.67l8.34 -8.34M189.33 436.33l8.34 8.34M189.33 444.67l8.34 -8.34M208.33 436.33l8.34 8.34M208.33 444.67l8.34 -8.34M229.33 433.33l8.34 8.34M229.33 441.67l8.34 -8.34M204.33 432.33l8.34 8.34M204.33 440.67l8.34 -8.34M199.33 433.33l8.34 8.34M199.33 441.67l8.34 -8.34M230.33 435.33l8.34 8.34M230.33 443.67l8.34 -8.34M214.33 434.33l8.34 8.34M214.33 442.67l8.34 -8.34M194.33 433.33l8.34 8.34M194.33 441.67l8.34 -8.34M218.33 434.33l8.34 8.34M218.33 442.67l8.34 -8.34M215.33 432.33l8.34 8.34M215.33 440.67l8.34 -8.34M212.33 435.33l8.34 8.34M212.33 443.67l8.34 -8.34M212.33 432.33l8.34 8.34M212.33 440.67l8.34 -8.34M219.33 433.33l8.34 8.34M219.33 441.67l8.34 -8.34M236.33 438.33l8.34 8.34M236.33 446.67l8.34 -8.34M227.33 434.33l8.34 8.34M227.33 442.67l8.34 -8.34M216.33 431.33l8.34 8.34M216.33 439.67l8.34 -8.34M209.33 432.33l8.34 8.34M209.33 440.67l8.34 -8.34M216.33 434.33l8.34 8.34M216.33 442.67l8.34 -8.34M207.33 435.33l8.34 8.34M207.33 443.67l8.34 -8.34M193.33 433.33l8.34 8.34M193.33 441.67l8.34 -8.34M199.33 433.33l8.34 8.34M199.33 441.67l8.34 -8.34M199.33 434.33l8.34 8.34M199.33 442.67l8.34 -8.34M189.33 433.33l8.34 8.34M189.33 441.67l8.34 -8.34M217.33 433.33l8.34 8.34M217.33 441.67l8.34 -8.34M222.33 432.33l8.34 8.34M222.33 440.67l8.34 -8.34M194.33 436.33l8.34 8.34M194.33 444.67l8.34 -8.34M201.33 433.33l8.34 8.34M201.33 441.67l8.34 -8.34M199.33 434.33l8.34 8.34M199.33 442.67l8.34 -8.34M207.33 431.33l8.34 8.34M207.33 439.67l8.34 -8.34M234.33 434.33l8.34 8.34M234.33 442.67l8.34 -8.34M204.33 434.33l8.34 8.34M204.33 442.67l8.34 -8.34M210.33 433.33l8.34 8.34M210.33 441.67l8.34 -8.34M215.33 434.33l8.34 8.34M215.33 442.67l8.34 -8.34M211.33 432.33l8.34 8.34M211.33 440.67l8.34 -8.34M236.33 433.33l8.34 8.34M236.33 441.67l8.34 -8.34M191.33 435.33l8.34 8.34M191.33 443.67l8.34 -8.34M193.33 433.33l8.34 8.34M193.33 441.67l8.34 -8.34M202.33 434.33l8.34 8.34M202.33 442.67l8.34 -8.34M192.33 435.33l8.34 8.34M192.33 443.67l8.34 -8.34M233.33 436.33l8.34 8.34M233.33 444.67l8.34 -8.34M225.33 436.33l8.34 8.34M225.33 444.67l8.34 -8.34M201.33 435.33l8.34 8.34M201.33 443.67l8.34 -8.34M188.33 430.33l8.34 8.34M188.33 438.67l8.34 -8.34M221.33 434.33l8.34 8.34M221.33 442.67l8.34 -8.34M189.33 435.33l8.34 8.34M189.33 443.67l8.34 -8.34M232.33 435.33l8.34 8.34M232.33 443.67l8.34 -8.34M226.33 431.33l8.34 8.34M226.33 439.67l8.34 -8.34M194.33 433.33l8.34 8.34M194.33 441.67l8.34 -8.34M200.33 435.33l8.34 8.34M200.33 443.67l8.34 -8.34M194.33 434.33l8.34 8.34M194.33 442.67l8.34 -8.34M231.33 432.33l8.34 8.34M231.33 440.67l8.34 -8.34M234.33 432.33l8.34 8.34M234.33 440.67l8.34 -8.34M206.33 433.33l8.34 8.34M206.33 441.67l8.34 -8.34M230.33 434.33l8.34 8.34M230.33 442.67l8.34 -8.34M230.33 433.33l8.34 8.34M230.33 441.67l8.34 -8.34M227.33 434.33l8.34 8.34M227.33 442.67l8.34 -8.34M221.33 434.33l8.34 8.34M221.33 442.67l8.34 -8.34M227.33 433.33l8.34 8.34M227.33 441.67l8.34 -8.34M214.33 436.33l8.34 8.34M214.33 444.67l8.34 -8.34M215.33 433.33l8.34 8.34M215.33 441.67l8.34 -8.34M212.33 435.33l8.34 8.34M212.33 443.67l8.34 -8.34M197.33 433.33l8.34 8.34M197.33 441.67l8.34 -8.34M213.33 432.33l8.34 8.34M213.33 440.67l8.34 -8.34M189.33 434.33l8.34 8.34M189.33 442.67l8.34 -8.34M210.33 433.33l8.34 8.34M210.33 441.67l8.34 -8.34M198.33 435.33l8.34 8.34M198.33 443.67l8.34 -8.34M205.33 435.33l8.34 8.34M205.33 443.67l8.34 -8.34M226.33 434.33l8.34 8.34M226.33 442.67l8.34 -8.34M189.33 433.33l8.34 8.34M189.33 441.67l8.34 -8.34M236.33 437.33l8.34 8.34M236.33 445.67l8.34 -8.34M192.33 436.33l8.34 8.34M192.33 444.67l8.34 -8.34M227.33 433.33l8.34 8.34M227.33 441.67l8.34 -8.34M235.33 434.33l8.34 8.34M235.33 442.67l8.34 -8.34M217.33 437.33l8.34 8.34M217.33 445.67l8.34 -8.34M191.33 433.33l8.34 8.34M191.33 441.67l8.34 -8.34M209.33 436.33l8.34 8.34M209.33 444.67l8.34 -8.34M221.33 435.33l8.34 8.34M221.33 443.67l8.34 -8.34M233.33 435.33l8.34 8.34M233.33 443.67l8.34 -8.34M221.33 435.33l8.34 8.34M221.33 443.67l8.34 -8.34M204.33 433.33l8.34 8.34M204.33 441.67l8.34 -8.34M234.33 434.33l8.34 8.34M234.33 442.67l8.34 -8.34M199.33 437.33l8.34 8.34M199.33 445.67l8.34 -8.34M207.33 433.33l8.34 8.34M207.33 441.67l8.34 -8.34M230.33 434.33l8.34 8.34M230.33 442.67l8.34 -8.34M221.33 434.33l8.34 8.34M221.33 442.67l8.34 -8.34M197.33 434.33l8.34 8.34M197.33 442.67l8.34 -8.34M204.33 434.33l8.34 8.34M204.33 442.67l8.34 -8.34M198.33 435.33l8.34 8.34M198.33 443.67l8.34 -8.34M195.33 432.33l8.34 8.34M195.33 440.67l8.34 -8.34M193.33 435.33l8.34 8.34M193.33 443.67l8.34 -8.34M212.33 434.33l8.34 8.34M212.33 442.67l8.34 -8.34M191.33 436.33l8.34 8.34M191.33 444.67l8.34 -8.34" fill="none" stroke="#0000FF" stroke-width="0.8"/>
<g fill="#BF00BF" stroke="#000" stroke-width="0.9">
<circle cx="212.5" cy="439.7" r="4.17"/><circle cx="228.7" cy="440.6" r="4.17"/><circle cx="199.7" cy="440.5" r="4.17"/><circle cx="203.8" cy="439.1" r="4.17"/><circle cx="207.2" cy="436.9" r="4.17"/><circle cx="195.3" cy="438.2" r="4.17"/><circle cx="234.7" cy="436.6" r="4.17"/><circle cx="205.4" cy="438.4" r="4.17"/><circle cx="224.6" cy="438.6" r="4.17"/><circle cx="232.0" cy="437.5" r="4.17"/><circle cx="213.4" cy="438.1" r="4.17"/><circle cx="230.8" cy="436.8" r="4.17"/><circle cx="236.4" cy="437.9" r="4.17"/><circle cx="209.8" cy="440.0" r="4.17"/><circle cx="218.9" cy="438.3" r="4.17"/><circle cx="229.8" cy="436.3" r="4.17"/><circle cx="216.7" cy="438.0" r="4.17"/><circle cx="194.6" cy="440.6" r="4.17"/><circle cx="223.8" cy="438.3" r="4.17"/><circle cx="228.6" cy="437.5" r="4.17"/><circle cx="235.3" cy="436.5" r="4.17"/><circle cx="236.0" cy="436.4" r="4.17"/><circle cx="199.7" cy="439.7" r="4.17"/><circle cx="198.9" cy="438.5" r="4.17"/><circle cx="202.8" cy="437.8" r="4.17"/><circle cx="211.1" cy="439.3" r="4.17"/><circle cx="216.6" cy="438.4" r="4.17"/><circle cx="200.0" cy="439.5" r="4.17"/><circle cx="205.5" cy="439.6" r="4.17"/><circle cx="238.0" cy="438.4" r="4.17"/><circle cx="214.9" cy="438.5" r="4.17"/><circle cx="228.3" cy="436.4" r="4.17"/><circle cx="237.1" cy="438.2" r="4.17"/><circle cx="197.0" cy="439.6" r="4.17"/><circle cx="204.3" cy="437.4" r="4.17"/><circle cx="198.3" cy="440.2" r="4.17"/><circle cx="202.8" cy="438.8" r="4.17"/><circle cx="192.0" cy="437.1" r="4.17"/><circle cx="209.0" cy="437.3" r="4.17"/><circle cx="212.1" cy="438.1" r="4.17"/><circle cx="214.6" cy="438.2" r="4.17"/><circle cx="229.1" cy="441.1" r="4.17"/><circle cx="232.4" cy="436.9" r="4.17"/><circle cx="230.7" cy="439.5" r="4.17"/><circle cx="239.5" cy="437.1" r="4.17"/><circle cx="229.6" cy="438.6" r="4.17"/><circle cx="235.0" cy="438.5" r="4.17"/><circle cx="206.4" cy="438.5" r="4.17"/><circle cx="230.5" cy="437.5" r="4.17"/><circle cx="198.2" cy="437.4" r="4.17"/><circle cx="236.6" cy="438.9" r="4.17"/><circle cx="223.9" cy="440.5" r="4.17"/><circle cx="208.8" cy="437.8" r="4.17"/><circle cx="196.8" cy="435.9" r="4.17"/><circle cx="223.6" cy="438.5" r="4.17"/><circle cx="208.7" cy="438.9" r="4.17"/><circle cx="198.1" cy="439.1" r="4.17"/><circle cx="238.9" cy="440.3" r="4.17"/><circle cx="212.5" cy="439.1" r="4.17"/><circle cx="235.2" cy="439.6" r="4.17"/><circle cx="230.8" cy="439.3" r="4.17"/><circle cx="192.2" cy="438.4" r="4.17"/><circle cx="230.3" cy="439.5" r="4.17"/><circle cx="237.0" cy="436.9" r="4.17"/><circle cx="217.1" cy="437.9" r="4.17"/><circle cx="231.5" cy="438.3" r="4.17"/><circle cx="203.1" cy="439.4" r="4.17"/><circle cx="210.2" cy="438.2" r="4.17"/><circle cx="204.5" cy="440.9" r="4.17"/><circle cx="230.3" cy="437.7" r="4.17"/><circle cx="193.6" cy="440.0" r="4.17"/><circle cx="212.6" cy="441.0" r="4.17"/><circle cx="233.5" cy="437.2" r="4.17"/><circle cx="208.9" cy="436.4" r="4.17"/><circle cx="203.7" cy="437.0" r="4.17"/><circle cx="234.2" cy="439.1" r="4.17"/><circle cx="218.9" cy="438.2" r="4.17"/><circle cx="198.5" cy="438.0" r="4.17"/><circle cx="222.3" cy="438.4" r="4.17"/><circle cx="219.6" cy="436.8" r="4.17"/><circle cx="216.4" cy="439.5" r="4.17"/><circle cx="216.4" cy="436.5" r="4.17"/><circle cx="223.6" cy="437.6" r="4.17"/><circle cx="240.5" cy="442.2" r="4.17"/><circle cx="231.5" cy="438.3" r="4.17"/><circle cx="220.8" cy="435.8" r="4.17"/><circle cx="213.9" cy="436.9" r="4.17"/><circle cx="220.8" cy="438.5" r="4.17"/><circle cx="212.0" cy="439.7" r="4.17"/><circle cx="197.6" cy="438.0" r="4.17"/><circle cx="203.4" cy="437.9" r="4.17"/><circle cx="203.8" cy="438.4" r="4.17"/><circle cx="193.5" cy="437.6" r="4.17"/><circle cx="221.8" cy="437.7" r="4.17"/><circle cx="226.7" cy="436.2" r="4.17"/><circle cx="198.9" cy="440.2" r="4.17"/><circle cx="205.1" cy="437.1" r="4.17"/><circle cx="203.7" cy="438.4" r="4.17"/><circle cx="211.7" cy="435.6" r="4.17"/><circle cx="238.8" cy="438.1" r="4.17"/><circle cx="208.4" cy="438.7" r="4.17"/><circle cx="215.0" cy="437.0" r="4.17"/><circle cx="219.5" cy="438.1" r="4.17"/><circle cx="215.2" cy="436.6" r="4.17"/><circle cx="240.2" cy="437.9" r="4.17"/><circle cx="196.0" cy="439.5" r="4.17"/><circle cx="197.7" cy="437.0" r="4.17"/><circle cx="206.9" cy="438.3" r="4.17"/><circle cx="196.0" cy="439.7" r="4.17"/><circle cx="237.3" cy="440.5" r="4.17"/><circle cx="229.3" cy="440.9" r="4.17"/><circle cx="205.8" cy="439.1" r="4.17"/><circle cx="192.0" cy="434.8" r="4.17"/><circle cx="225.3" cy="438.6" r="4.17"/><circle cx="193.2" cy="439.7" r="4.17"/><circle cx="236.7" cy="439.8" r="4.17"/><circle cx="230.7" cy="435.9" r="4.17"/><circle cx="198.1" cy="437.7" r="4.17"/><circle cx="204.8" cy="439.2" r="4.17"/><circle cx="198.6" cy="438.9" r="4.17"/><circle cx="235.4" cy="437.0" r="4.17"/><circle cx="238.7" cy="436.7" r="4.17"/><circle cx="210.3" cy="437.2" r="4.17"/><circle cx="235.0" cy="438.3" r="4.17"/><circle cx="234.6" cy="438.0" r="4.17"/><circle cx="231.5" cy="438.4" r="4.17"/><circle cx="225.3" cy="438.3" r="4.17"/><circle cx="231.4" cy="437.3" r="4.17"/><circle cx="218.6" cy="440.3" r="4.17"/><circle cx="219.6" cy="438.0" r="4.17"/><circle cx="216.1" cy="439.8" r="4.17"/><circle cx="201.1" cy="437.9" r="4.17"/><circle cx="218.0" cy="436.3" r="4.17"/><circle cx="193.8" cy="438.4" r="4.17"/><circle cx="214.8" cy="437.1" r="4.17"/><circle cx="202.7" cy="439.4" r="4.17"/><circle cx="209.3" cy="439.7" r="4.17"/><circle cx="230.7" cy="438.7" r="4.17"/><circle cx="193.1" cy="437.3" r="4.17"/><circle cx="240.0" cy="441.7" r="4.17"/><circle cx="196.7" cy="440.5" r="4.17"/><circle cx="231.1" cy="437.1" r="4.17"/><circle cx="239.6" cy="438.1" r="4.17"/><circle cx="221.8" cy="441.3" r="4.17"/><circle cx="195.3" cy="437.4" r="4.17"/><circle cx="213.8" cy="440.6" r="4.17"/><circle cx="225.9" cy="439.3" r="4.17"/><circle cx="237.8" cy="440.0" r="4.17"/><circle cx="226.0" cy="439.6" r="4.17"/><circle cx="208.9" cy="438.0" r="4.17"/><circle cx="238.3" cy="438.1" r="4.17"/><circle cx="203.5" cy="441.3" r="4.17"/><circle cx="211.6" cy="437.7" r="4.17"/><circle cx="234.7" cy="438.2" r="4.17"/><circle cx="225.4" cy="438.3" r="4.17"/><circle cx="201.0" cy="438.7" r="4.17"/><circle cx="208.1" cy="438.4" r="4.17"/><circle cx="202.2" cy="439.7" r="4.17"/><circle cx="199.5" cy="436.7" r="4.17"/><circle cx="198.0" cy="439.5" r="4.17"/><circle cx="216.9" cy="438.7" r="4.17"/><circle cx="195.3" cy="440.3" r="4.17"/>
</g>
<path d="M100 438.6H383" stroke="#0000FF" stroke-width="1.39" stroke-dasharray="8.33 8.33" fill="none"/>
<path d="M100 437.5H383" stroke="#FF0000" stroke-width="1.39" stroke-dasharray="8.33 8.33" fill="none"/>
<path d="M100 434.3H383" stroke="#0000FF" stroke-width="1.39" stroke-dasharray="4.17 6.94 1.39 6.94" fill="none"/>
<path d="M100 440.3H383" stroke="#0000FF" stroke-width="1.39" stroke-dasharray="4.17 6.94 1.39 6.94" fill="none"/>
</g>
<path d="M100.5 540v-5.56M138.5 540v-5.56M175.5 540v-5.56M213.5 540v-5.56M250.5 540v-5.56M288.5 540v-5.56M325.5 540v-5.56M363.5 540v-5.56M118.5 61v5.56M155.5 61v5.56M193.5 61v5.56M230.5 61v5.56M268.5 61v5.56M306.5 61v5.56M343.5 61v5.56M381.5 61v5.56M101 60.5h5.56M382 60.5h-5.56M101 180.5h5.56M382 180.5h-5.56M101 300.5h5.56M382 300.5h-5.56M101 420.5h5.56M382 420.5h-5.56M101 540.5h5.56M382 540.5h-5.56" stroke="#000" stroke-width="0.7" fill="none"/>
<rect x="100.5" y="60.5" width="282" height="480" fill="none" stroke="#000" stroke-width="1"/>
<g clip-path="url(#cr)">
<rect x="438.5" y="258.5" width="221.0" height="64.0" fill="#0000FF" stroke="#000" stroke-width="1.2"/>
<rect x="438.5" y="193.5" width="6.0" height="65.0" fill="#0000FF" stroke="#000" stroke-width="1.2"/>
<rect x="438.5" y="129.5" width="2.0" height="64.0" fill="#0000FF" stroke="#000" stroke-width="1.2"/>
<path d="M438.7 292.5H698.5" stroke="#000" stroke-width="1.39" stroke-dasharray="8.33 8.33" fill="none"/>
</g>
<path d="M438.5 540v-5.56M438.5 61v5.56M509.5 540v-5.56M509.5 61v5.56M579.5 540v-5.56M579.5 61v5.56M650.5 540v-5.56M650.5 61v5.56M720.5 540v-5.56M720.5 61v5.56M439 540.5h5.56M720 540.5h-5.56M439 480.5h5.56M720 480.5h-5.56M439 420.5h5.56M720 420.5h-5.56M439 360.5h5.56M720 360.5h-5.56M439 300.5h5.56M720 300.5h-5.56M439 240.5h5.56M720 240.5h-5.56M439 180.5h5.56M720 180.5h-5.56M439 120.5h5.56M720 120.5h-5.56M439 60.5h5.56M720 60.5h-5.56" stroke="#000" stroke-width="0.7" fill="none"/>
<rect x="438.5" y="60.5" width="282" height="480" fill="none" stroke="#000" stroke-width="1"/>
<text y="559.80" font-size="17.50"><tspan x="83.29" textLength="33.42" lengthAdjust="spacingAndGlyphs">−20</tspan></text>
<text y="559.80" font-size="17.50"><tspan x="120.87" textLength="33.42" lengthAdjust="spacingAndGlyphs">−18</tspan></text>
<text y="559.80" font-size="17.50"><tspan x="158.44" textLength="33.42" lengthAdjust="spacingAndGlyphs">−16</tspan></text>
<text y="559.80" font-size="17.50"><tspan x="196.02" textLength="33.42" lengthAdjust="spacingAndGlyphs">−14</tspan></text>
<text y="559.80" font-size="17.50"><tspan x="233.60" textLength="33.42" lengthAdjust="spacingAndGlyphs">−12</tspan></text>
<text y="559.80" font-size="17.50"><tspan x="271.17" textLength="33.42" lengthAdjust="spacingAndGlyphs">−10</tspan></text>
<text y="559.80" font-size="17.50"><tspan x="313.79" textLength="23.34" lengthAdjust="spacingAndGlyphs">−8</tspan></text>
<text y="559.80" font-size="17.50"><tspan x="351.36" textLength="23.34" lengthAdjust="spacingAndGlyphs">−6</tspan></text>
<text y="49.80" font-size="17.50"><tspan x="107.84" textLength="19.72" lengthAdjust="spacingAndGlyphs">14</tspan></text>
<text y="49.80" font-size="17.50"><tspan x="145.41" textLength="19.72" lengthAdjust="spacingAndGlyphs">16</tspan></text>
<text y="49.80" font-size="17.50"><tspan x="182.99" textLength="19.72" lengthAdjust="spacingAndGlyphs">18</tspan></text>
<text y="49.80" font-size="17.50"><tspan x="220.57" textLength="19.72" lengthAdjust="spacingAndGlyphs">20</tspan></text>
<text y="49.80" font-size="17.50"><tspan x="258.14" textLength="19.72" lengthAdjust="spacingAndGlyphs">22</tspan></text>
<text y="49.80" font-size="17.50"><tspan x="295.72" textLength="19.72" lengthAdjust="spacingAndGlyphs">24</tspan></text>
<text y="49.80" font-size="17.50"><tspan x="333.29" textLength="19.72" lengthAdjust="spacingAndGlyphs">26</tspan></text>
<text y="49.80" font-size="17.50"><tspan x="370.87" textLength="19.72" lengthAdjust="spacingAndGlyphs">28</tspan></text>
<text y="64.60" font-size="17.50"><tspan x="75.28" textLength="19.72" lengthAdjust="spacingAndGlyphs">20</tspan></text>
<text y="184.60" font-size="17.50"><tspan x="75.28" textLength="19.72" lengthAdjust="spacingAndGlyphs">15</tspan></text>
<text y="304.60" font-size="17.50"><tspan x="75.28" textLength="19.72" lengthAdjust="spacingAndGlyphs">10</tspan></text>
<text y="424.60" font-size="17.50"><tspan x="85.14" textLength="9.86" lengthAdjust="spacingAndGlyphs">5</tspan></text>
<text y="544.60" font-size="17.50"><tspan x="85.14" textLength="9.86" lengthAdjust="spacingAndGlyphs">0</tspan></text>
<text y="559.80" font-size="17.50"><tspan x="433.25" textLength="9.86" lengthAdjust="spacingAndGlyphs">0</tspan></text>
<text y="559.80" font-size="17.50"><tspan x="498.77" textLength="19.72" lengthAdjust="spacingAndGlyphs">50</tspan></text>
<text y="559.80" font-size="17.50"><tspan x="564.30" textLength="29.59" lengthAdjust="spacingAndGlyphs">100</tspan></text>
<text y="559.80" font-size="17.50"><tspan x="634.75" textLength="29.59" lengthAdjust="spacingAndGlyphs">150</tspan></text>
<text y="559.80" font-size="17.50"><tspan x="705.21" textLength="29.59" lengthAdjust="spacingAndGlyphs">200</tspan></text>
<text y="544.60" font-size="17.50"><tspan x="408.08" textLength="24.92" lengthAdjust="spacingAndGlyphs">3.4</tspan></text>
<text y="484.60" font-size="17.50"><tspan x="408.08" textLength="24.92" lengthAdjust="spacingAndGlyphs">3.6</tspan></text>
<text y="424.60" font-size="17.50"><tspan x="408.08" textLength="24.92" lengthAdjust="spacingAndGlyphs">3.8</tspan></text>
<text y="364.60" font-size="17.50"><tspan x="408.08" textLength="24.92" lengthAdjust="spacingAndGlyphs">4.0</tspan></text>
<text y="304.60" font-size="17.50"><tspan x="408.08" textLength="24.92" lengthAdjust="spacingAndGlyphs">4.2</tspan></text>
<text y="244.60" font-size="17.50"><tspan x="408.08" textLength="24.92" lengthAdjust="spacingAndGlyphs">4.4</tspan></text>
<text y="184.60" font-size="17.50"><tspan x="408.08" textLength="24.92" lengthAdjust="spacingAndGlyphs">4.6</tspan></text>
<text y="124.60" font-size="17.50"><tspan x="408.08" textLength="24.92" lengthAdjust="spacingAndGlyphs">4.8</tspan></text>
<text y="64.60" font-size="17.50"><tspan x="408.08" textLength="24.92" lengthAdjust="spacingAndGlyphs">5.0</tspan></text>
<text y="29.00" font-size="21.00"><tspan x="118.52" textLength="63.58" lengthAdjust="spacingAndGlyphs">FWHM</tspan> <tspan x="188.46" textLength="22.26" lengthAdjust="spacingAndGlyphs">vs</tspan> <tspan x="217.07" textLength="118.61" lengthAdjust="spacingAndGlyphs">magnitudes</tspan></text>
<text y="52.60" font-size="21.00"><tspan x="481.02" textLength="101.39" lengthAdjust="spacingAndGlyphs">histogram</tspan> <tspan x="588.77" textLength="19.28" lengthAdjust="spacingAndGlyphs">of</tspan> <tspan x="614.40" textLength="63.58" lengthAdjust="spacingAndGlyphs">FWHM</tspan></text>
<text y="584.00" font-size="17.50"><tspan x="95.74" textLength="90.16" lengthAdjust="spacingAndGlyphs">magnitude</tspan> <tspan x="191.19" textLength="102.81" lengthAdjust="spacingAndGlyphs">(bottom:isnt</tspan> <tspan x="299.30" textLength="5.62" lengthAdjust="spacingAndGlyphs">/</tspan> <tspan x="310.22" textLength="78.65" lengthAdjust="spacingAndGlyphs">top:calib)</tspan></text>
<text y="584.00" font-size="17.50"><tspan x="501.63" textLength="65.05" lengthAdjust="spacingAndGlyphs">number</tspan> <tspan x="571.98" textLength="16.06" lengthAdjust="spacingAndGlyphs">of</tspan> <tspan x="593.34" textLength="64.03" lengthAdjust="spacingAndGlyphs">sources</tspan></text>
<text y="0" font-size="17.50" transform="translate(64.00 300.00) rotate(-90)"><tspan x="-48.18" textLength="52.98" lengthAdjust="spacingAndGlyphs">FWHM</tspan> <tspan x="10.10" textLength="38.08" lengthAdjust="spacingAndGlyphs">(pix)</tspan></text>
<text y="0" font-size="17.50" transform="translate(395.70 300.00) rotate(-90)"><tspan x="-153.23" textLength="52.98" lengthAdjust="spacingAndGlyphs">FWHM</tspan> <tspan x="-94.96" textLength="16.06" lengthAdjust="spacingAndGlyphs">of</tspan> <tspan x="-73.59" textLength="87.39" lengthAdjust="spacingAndGlyphs">best-effort</tspan> <tspan x="19.10" textLength="64.81" lengthAdjust="spacingAndGlyphs">PSF-like</tspan> <tspan x="89.20" textLength="64.03" lengthAdjust="spacingAndGlyphs">sources</tspan></text>
<rect x="27.65" y="70.65" width="344.8" height="179.65" fill="#fff" stroke="#000" stroke-width="1.3"/>
<path d="M37.33 86.25h8.34M41.50 82.08v8.34M65.33 86.25h8.34M69.50 82.08v8.34" fill="none" stroke="#00BFBF" stroke-width="0.7"/>
<path d="M37.33 111.33l8.34 8.34M37.33 119.67l8.34 -8.34M65.33 111.33l8.34 8.34M65.33 119.67l8.34 -8.34" fill="none" stroke="#0000FF" stroke-width="0.8"/>
<circle cx="41.5" cy="144.5" r="4.17" fill="#BF00BF" stroke="#000" stroke-width="0.9"/><circle cx="69.5" cy="144.5" r="4.17" fill="#BF00BF" stroke="#000" stroke-width="0.9"/>
<path d="M41.5 173.7H69.5" stroke="#0000FF" stroke-width="1.39" stroke-dasharray="8.33 8.33" fill="none"/>
<path d="M41.5 202.6H69.5" stroke="#FF0000" stroke-width="1.39" stroke-dasharray="8.33 8.33" fill="none"/>
<path d="M41.5 231.4H69.5" stroke="#0000FF" stroke-width="1.39" stroke-dasharray="4.17 6.94 1.39 6.94" fill="none"/>
<text y="92.55" font-size="21.00"><tspan x="91.50" textLength="23.37" lengthAdjust="spacingAndGlyphs">all</tspan> <tspan x="121.23" textLength="72.72" lengthAdjust="spacingAndGlyphs">sample</tspan></text>
<text y="121.70" font-size="21.00"><tspan x="91.50" textLength="72.72" lengthAdjust="spacingAndGlyphs">sample</tspan> <tspan x="170.57" textLength="27.50" lengthAdjust="spacingAndGlyphs">for</tspan> <tspan x="204.43" textLength="58.07" lengthAdjust="spacingAndGlyphs">rough</tspan> <tspan x="268.86" textLength="63.58" lengthAdjust="spacingAndGlyphs">FWHM</tspan></text>
<text y="150.80" font-size="21.00"><tspan x="91.50" textLength="104.87" lengthAdjust="spacingAndGlyphs">best-effort</tspan> <tspan x="202.72" textLength="77.77" lengthAdjust="spacingAndGlyphs">PSF-like</tspan> <tspan x="286.85" textLength="72.72" lengthAdjust="spacingAndGlyphs">sample</tspan></text>
<text y="180.00" font-size="21.00"><tspan x="91.50" textLength="89.36" lengthAdjust="spacingAndGlyphs">resultant</tspan> <tspan x="187.22" textLength="70.31" lengthAdjust="spacingAndGlyphs">FWHM:</tspan> <tspan x="263.89" textLength="44.53" lengthAdjust="spacingAndGlyphs">4.23</tspan></text>
<text y="208.90" font-size="21.00"><tspan x="91.50" textLength="74.97" lengthAdjust="spacingAndGlyphs">median</tspan> <tspan x="172.83" textLength="63.58" lengthAdjust="spacingAndGlyphs">FHWM</tspan> <tspan x="242.76" textLength="19.28" lengthAdjust="spacingAndGlyphs">of</tspan> <tspan x="268.40" textLength="96.38" lengthAdjust="spacingAndGlyphs">sequence</tspan></text>
<text y="237.70" font-size="21.00"><tspan x="91.50" textLength="60.41" lengthAdjust="spacingAndGlyphs">sigma</tspan> <tspan x="158.27" textLength="58.16" lengthAdjust="spacingAndGlyphs">range</tspan></text>
</svg>
</body>
</html>
